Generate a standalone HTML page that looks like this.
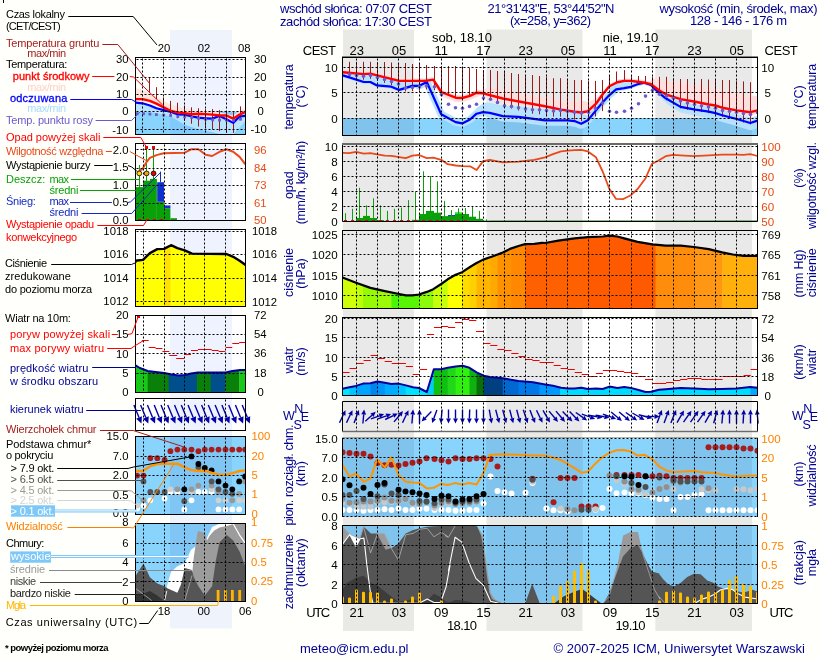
<!DOCTYPE html>
<html><head><meta charset="utf-8"><title>meteogram</title>
<style>html,body{margin:0;padding:0;background:#fffffb;}svg{display:block;will-change:transform}text{font-family:"Liberation Sans", sans-serif;}</style>
</head><body>
<svg width="820" height="660" viewBox="0 0 820 660">
<rect width="820" height="660" fill="#fffffb"/>
<rect x="3" y="0" width="1" height="3" fill="#000"/>
<rect x="342.5" y="57.5" width="415.0" height="78.0" fill="#ffffff"/>
<rect x="342.5" y="143.5" width="415.0" height="78.0" fill="#ffffff"/>
<rect x="342.5" y="230.5" width="415.0" height="78.0" fill="#ffffff"/>
<rect x="342.5" y="317.5" width="415.0" height="78.0" fill="#ffffff"/>
<rect x="342.5" y="401.5" width="415.0" height="30.0" fill="#ffffff"/>
<rect x="342.5" y="438.5" width="415.0" height="78.0" fill="#88D4FC"/>
<rect x="342.5" y="525.5" width="415.0" height="78.0" fill="#88D4FC"/>
<rect x="135.5" y="57.5" width="110.0" height="77.0" fill="#ffffff"/>
<rect x="135.5" y="143.5" width="110.0" height="77.0" fill="#ffffff"/>
<rect x="135.5" y="229.5" width="110.0" height="77.0" fill="#ffffff"/>
<rect x="135.5" y="315.5" width="110.0" height="77.0" fill="#ffffff"/>
<rect x="135.5" y="398.5" width="110.0" height="32.0" fill="#ffffff"/>
<rect x="135.5" y="436.5" width="110.0" height="78.0" fill="#88D4FC"/>
<rect x="135.5" y="523.5" width="110.0" height="78.0" fill="#88D4FC"/>
<rect x="342.5" y="118" width="415.0" height="17.5" fill="#88D4FC"/>
<rect x="343.0" y="29.5" width="71.0" height="601.5" fill="#000" fill-opacity="0.085"/>
<rect x="486.5" y="29.5" width="96.0" height="601.5" fill="#000" fill-opacity="0.085"/>
<rect x="655.3" y="29.5" width="96.7" height="601.5" fill="#000" fill-opacity="0.085"/>
<rect x="170" y="30" width="62" height="598.5" fill="#5078ff" fill-opacity="0.09"/>
<rect x="343.0" y="438.5" width="71.0" height="78.0" fill="#80C4EE"/>
<rect x="343.0" y="525.5" width="71.0" height="78.0" fill="#80C4EE"/>
<rect x="343.0" y="118.0" width="71.0" height="17.5" fill="#80C4EE"/>
<rect x="486.5" y="438.5" width="96.0" height="78.0" fill="#80C4EE"/>
<rect x="486.5" y="525.5" width="96.0" height="78.0" fill="#80C4EE"/>
<rect x="486.5" y="118.0" width="96.0" height="17.5" fill="#80C4EE"/>
<rect x="655.3" y="438.5" width="96.7" height="78.0" fill="#80C4EE"/>
<rect x="655.3" y="525.5" width="96.7" height="78.0" fill="#80C4EE"/>
<rect x="655.3" y="118.0" width="96.7" height="17.5" fill="#80C4EE"/>
<rect x="170" y="436.5" width="62" height="78.0" fill="#80C6F4"/>
<rect x="170" y="523.5" width="62" height="78.0" fill="#80C6F4"/>
<defs>
<clipPath id="cT"><rect x="342.5" y="57.5" width="415.0" height="78.0"/></clipPath>
<clipPath id="cP"><rect x="342.5" y="143.5" width="415.0" height="78.0"/></clipPath>
<clipPath id="cPr"><rect x="342.5" y="230.5" width="415.0" height="78.0"/></clipPath>
<clipPath id="cW"><rect x="342.5" y="317.5" width="415.0" height="78.0"/></clipPath>
<clipPath id="cD"><rect x="342.5" y="401.5" width="415.0" height="30.0"/></clipPath>
<clipPath id="cC"><rect x="342.5" y="438.5" width="415.0" height="78.0"/></clipPath>
<clipPath id="cN"><rect x="342.5" y="525.5" width="415.0" height="78.0"/></clipPath>
<clipPath id="lT"><rect x="135.5" y="57.5" width="110.0" height="77.0"/></clipPath>
<clipPath id="lP"><rect x="135.5" y="143.5" width="110.0" height="77.0"/></clipPath>
<clipPath id="lPr"><rect x="135.5" y="229.5" width="110.0" height="77.0"/></clipPath>
<clipPath id="lW"><rect x="135.5" y="315.5" width="110.0" height="77.0"/></clipPath>
<clipPath id="lD"><rect x="135.5" y="398.5" width="110.0" height="32.0"/></clipPath>
<clipPath id="lC"><rect x="135.5" y="436.5" width="110.0" height="78.0"/></clipPath>
<clipPath id="lN"><rect x="135.5" y="523.5" width="110.0" height="78.0"/></clipPath>
</defs>
<g clip-path="url(#cT)">
<polygon points="342.5,69.7 345.0,69.9 347.5,70.1 350.0,70.3 352.5,70.5 355.0,70.7 357.5,71.0 360.0,71.2 362.5,71.4 365.0,71.4 367.5,71.2 370.0,71.0 372.5,71.6 375.0,72.3 377.5,72.9 380.0,73.5 382.5,74.2 385.0,74.8 387.5,75.4 390.0,76.0 392.5,76.6 395.0,77.3 397.5,77.9 400.0,78.3 402.5,78.3 405.0,78.3 407.5,78.3 410.0,78.3 412.5,78.3 415.0,78.3 417.5,78.3 420.0,78.3 422.5,78.3 425.0,78.3 427.5,78.0 430.0,77.6 432.5,77.0 435.0,79.3 437.5,83.2 440.0,87.1 442.5,89.5 445.0,90.5 447.5,91.5 450.0,92.5 452.5,93.5 455.0,94.5 457.5,94.8 460.0,94.9 462.5,94.9 465.0,94.2 467.5,93.6 470.0,92.9 472.5,91.7 475.0,90.5 477.5,89.8 480.0,90.0 482.5,90.2 485.0,89.1 487.5,87.6 490.0,87.6 492.5,87.9 495.0,88.2 497.5,88.6 500.0,88.9 502.5,89.2 505.0,89.4 507.5,90.0 510.0,90.5 512.5,91.1 515.0,91.6 517.5,92.2 520.0,92.7 522.5,93.3 525.0,93.8 527.5,94.3 530.0,94.7 532.5,95.2 535.0,95.7 537.5,96.1 540.0,96.6 542.5,97.0 545.0,97.5 547.5,98.0 550.0,98.4 552.5,98.8 555.0,99.2 557.5,99.7 560.0,100.1 562.5,100.5 565.0,100.8 567.5,101.0 570.0,100.9 572.5,100.7 575.0,100.6 577.5,100.4 580.0,100.2 582.5,100.6 585.0,101.3 587.5,102.1 590.0,101.3 592.5,100.2 595.0,99.1 597.5,97.3 600.0,95.1 602.5,91.8 605.0,89.0 607.5,86.0 610.0,83.4 612.5,82.2 615.0,80.9 617.5,79.7 620.0,79.2 622.5,78.7 625.0,78.4 627.5,78.4 630.0,78.4 632.5,78.6 635.0,78.9 637.5,79.2 640.0,79.6 642.5,79.9 645.0,80.3 647.5,80.9 650.0,81.4 652.5,78.5 655.0,79.0 657.5,79.4 660.0,79.8 662.5,80.3 665.0,80.7 667.5,81.1 670.0,81.5 672.5,82.0 675.0,82.4 677.5,82.8 680.0,83.2 682.5,83.7 685.0,84.1 687.5,84.5 690.0,85.0 692.5,85.4 695.0,85.8 697.5,86.2 700.0,86.7 702.5,87.1 705.0,87.5 707.5,87.9 710.0,88.4 712.5,88.8 715.0,89.2 717.5,89.7 720.0,90.1 722.5,90.5 725.0,90.9 727.5,91.4 730.0,91.8 732.5,92.2 735.0,92.6 737.5,93.1 740.0,93.5 742.5,93.9 745.0,94.4 747.5,94.8 750.0,95.2 752.5,95.6 755.0,96.1 757.5,96.5 757.5,113.6 755.0,114.2 752.5,114.9 750.0,115.4 747.5,115.0 745.0,114.7 742.5,114.4 740.0,114.0 737.5,113.7 735.0,113.3 732.5,112.8 730.0,112.4 727.5,111.9 725.0,111.4 722.5,111.0 720.0,110.2 717.5,109.4 715.0,108.6 712.5,108.3 710.0,107.9 707.5,107.5 705.0,107.0 702.5,106.5 700.0,105.9 697.5,105.4 695.0,104.9 692.5,104.5 690.0,104.0 687.5,103.6 685.0,103.1 682.5,102.7 680.0,102.1 677.5,101.3 675.0,100.5 672.5,99.7 670.0,98.9 667.5,98.1 665.0,97.1 662.5,95.5 660.0,94.0 657.5,92.3 655.0,89.5 652.5,87.6 650.0,86.3 647.5,85.8 645.0,85.2 642.5,84.8 640.0,84.5 637.5,84.1 635.0,83.8 632.5,83.5 630.0,83.3 627.5,83.3 625.0,83.3 622.5,83.6 620.0,84.1 617.5,84.6 615.0,85.8 612.5,87.1 610.0,88.3 607.5,90.9 605.0,93.9 602.5,97.0 600.0,100.5 597.5,104.0 595.0,107.0 592.5,109.3 590.0,112.5 587.5,114.5 585.0,115.0 582.5,115.4 580.0,115.6 577.5,115.3 575.0,115.0 572.5,114.6 570.0,114.2 567.5,113.8 565.0,113.4 562.5,113.0 560.0,112.6 557.5,112.1 555.0,111.5 552.5,111.0 550.0,110.5 547.5,110.0 545.0,109.5 542.5,109.0 540.0,108.6 537.5,108.1 535.0,107.7 532.5,107.2 530.0,106.7 527.5,106.3 525.0,105.8 522.5,105.3 520.0,104.9 517.5,104.4 515.0,104.0 512.5,103.5 510.0,103.0 507.5,102.6 505.0,102.1 502.5,101.6 500.0,101.0 497.5,100.3 495.0,99.6 492.5,99.0 490.0,98.3 487.5,97.7 485.0,96.2 482.5,95.6 480.0,95.4 477.5,97.0 475.0,97.7 472.5,98.9 470.0,100.1 467.5,100.8 465.0,101.4 462.5,102.1 460.0,102.1 457.5,102.0 455.0,101.7 452.5,100.7 450.0,99.7 447.5,98.7 445.0,97.7 442.5,96.7 440.0,94.3 437.5,90.4 435.0,86.5 432.5,83.9 430.0,82.6 427.5,83.0 425.0,83.3 422.5,83.3 420.0,83.3 417.5,83.3 415.0,83.3 412.5,83.3 410.0,83.3 407.5,83.3 405.0,83.3 402.5,83.3 400.0,83.3 397.5,82.9 395.0,82.3 392.5,81.6 390.0,81.0 387.5,80.4 385.0,79.8 382.5,79.2 380.0,78.5 377.5,77.9 375.0,77.3 372.5,76.6 370.0,76.0 367.5,76.2 365.0,76.4 362.5,76.4 360.0,76.2 357.5,76.0 355.0,75.7 352.5,75.5 350.0,75.3 347.5,75.1 345.0,74.9 342.5,74.7" fill="#FFDEDE" />
<polygon points="342.5,73.5 345.0,73.7 347.5,73.9 350.0,74.1 352.5,74.3 355.0,74.5 357.5,74.8 360.0,75.0 362.5,75.2 365.0,75.2 367.5,75.0 370.0,74.8 372.5,75.4 375.0,76.1 377.5,76.7 380.0,77.3 382.5,78.0 385.0,78.6 387.5,79.2 390.0,79.8 392.5,80.4 395.0,81.1 397.5,81.7 400.0,82.1 402.5,82.1 405.0,82.1 407.5,82.1 410.0,82.1 412.5,82.1 415.0,82.1 417.5,82.1 420.0,82.1 422.5,82.1 425.0,82.1 427.5,81.8 430.0,86.2 432.5,91.7 435.0,97.3 437.5,102.9 440.0,108.5 442.5,111.9 445.0,113.3 447.5,114.7 450.0,116.0 452.5,117.4 455.0,118.8 457.5,119.5 460.0,120.0 462.5,120.3 465.0,119.0 467.5,117.8 470.0,116.5 472.5,113.2 475.0,109.9 477.5,107.2 480.0,105.5 482.5,103.8 485.0,102.8 487.5,102.6 490.0,102.9 492.5,103.4 495.0,104.0 497.5,104.5 500.0,105.1 502.5,105.7 505.0,105.8 507.5,105.9 510.0,105.9 512.5,106.0 515.0,106.1 517.5,106.1 520.0,106.3 522.5,106.6 525.0,106.9 527.5,107.1 530.0,107.4 532.5,107.7 535.0,107.9 537.5,108.2 540.0,108.4 542.5,108.7 545.0,109.0 547.5,108.9 550.0,108.9 552.5,109.0 555.0,109.5 557.5,110.1 560.0,110.6 562.5,111.0 565.0,111.4 567.5,111.8 570.0,112.2 572.5,112.6 575.0,113.0 577.5,113.3 580.0,114.0 582.5,115.1 585.0,115.1 587.5,115.2 590.0,114.7 592.5,111.7 595.0,108.6 597.5,105.6 600.0,102.6 602.5,99.5 605.0,96.8 607.5,94.1 610.0,87.1 612.5,85.9 615.0,84.6 617.5,83.4 620.0,82.9 622.5,82.4 625.0,82.1 627.5,82.1 630.0,82.1 632.5,82.3 635.0,82.6 637.5,82.9 640.0,83.3 642.5,83.1 645.0,82.9 647.5,83.8 650.0,84.6 652.5,86.4 655.0,88.3 657.5,90.3 660.0,92.0 662.5,93.5 665.0,95.1 667.5,96.1 670.0,96.9 672.5,97.7 675.0,98.7 677.5,100.2 680.0,101.6 682.5,102.3 685.0,102.7 687.5,103.2 690.0,103.6 692.5,104.1 695.0,104.5 697.5,104.9 700.0,105.3 702.5,105.7 705.0,106.1 707.5,106.5 710.0,107.0 712.5,107.5 715.0,108.0 717.5,108.8 720.0,109.5 722.5,110.3 725.0,110.9 727.5,111.6 730.0,112.2 732.5,112.9 735.0,113.5 737.5,114.2 740.0,114.9 742.5,115.7 745.0,116.4 747.5,117.2 750.0,117.9 752.5,117.3 755.0,116.4 757.5,115.6 757.5,128.1 755.0,128.9 752.5,129.7 750.0,130.3 747.5,129.5 745.0,128.7 742.5,127.9 740.0,127.1 737.5,126.3 735.0,125.5 732.5,124.8 730.0,124.1 727.5,123.4 725.0,122.7 722.5,122.0 720.0,121.2 717.5,120.4 715.0,119.6 712.5,119.0 710.0,118.4 707.5,117.9 705.0,117.4 702.5,117.0 700.0,116.5 697.5,116.1 695.0,115.6 692.5,115.1 690.0,114.6 687.5,114.1 685.0,113.6 682.5,113.1 680.0,112.3 677.5,110.8 675.0,109.3 672.5,107.8 670.0,106.3 667.5,104.3 665.0,102.1 662.5,99.5 660.0,96.9 657.5,94.0 655.0,90.9 652.5,88.4 650.0,86.6 647.5,85.8 645.0,84.9 642.5,85.1 640.0,85.7 637.5,86.3 635.0,87.3 632.5,88.2 630.0,89.0 627.5,89.5 625.0,89.9 622.5,90.4 620.0,90.8 617.5,91.2 615.0,92.3 612.5,94.5 610.0,96.6 607.5,99.1 605.0,101.8 602.5,104.5 600.0,107.6 597.5,114.1 595.0,117.1 592.5,120.2 590.0,123.2 587.5,126.0 585.0,127.3 582.5,128.6 580.0,128.8 577.5,127.8 575.0,126.8 572.5,126.4 570.0,126.1 567.5,125.8 565.0,125.8 562.5,125.8 560.0,125.8 557.5,125.8 555.0,125.8 552.5,125.8 550.0,125.8 547.5,125.8 545.0,125.8 542.5,125.5 540.0,125.2 537.5,124.8 535.0,124.5 532.5,124.2 530.0,123.9 527.5,123.6 525.0,123.2 522.5,122.9 520.0,122.6 517.5,122.3 515.0,122.2 512.5,122.1 510.0,122.0 507.5,121.8 505.0,121.7 502.5,121.5 500.0,120.9 497.5,120.1 495.0,119.2 492.5,118.3 490.0,117.5 487.5,116.9 485.0,116.3 482.5,116.0 480.0,116.4 477.5,116.7 475.0,118.1 472.5,120.3 470.0,122.5 467.5,123.8 465.0,125.0 462.5,126.3 460.0,126.0 457.5,125.5 455.0,124.8 452.5,123.4 450.0,122.0 447.5,120.7 445.0,119.3 442.5,117.9 440.0,114.5 437.5,108.9 435.0,103.3 432.5,97.7 430.0,92.2 427.5,86.6 425.0,84.9 422.5,86.1 420.0,87.4 417.5,87.9 415.0,87.9 412.5,87.9 410.0,88.6 407.5,89.4 405.0,90.1 402.5,90.9 400.0,91.7 397.5,91.2 395.0,90.2 392.5,89.2 390.0,88.6 387.5,88.3 385.0,88.1 382.5,87.9 380.0,87.7 377.5,87.4 375.0,86.4 372.5,85.1 370.0,84.0 367.5,84.0 365.0,84.0 362.5,83.6 360.0,82.8 357.5,82.0 355.0,81.2 352.5,80.4 350.0,79.6 347.5,78.9 345.0,78.1 342.5,77.4" fill="#B6E2FF" />
<polyline points="418.9,85.9 426.8,82.0 441.2,114.2 455.6,122.1 462.2,123.4 470.0,119.5 476.6,113.7 483.1,112.1" fill="none" stroke="#B6E2FF" stroke-width="7.5" stroke-linejoin="round" stroke-linecap="round"/>
<polyline points="581.2,123.8 587.9,120.3 596.0,110.4 602.7,102.3 609.4,95.1 616.1,89.4" fill="none" stroke="#B6E2FF" stroke-width="7" stroke-linejoin="round" stroke-linecap="round"/>
<line x1="349.5" y1="61.8" x2="349.5" y2="77.9" stroke="#A01818" stroke-width="1"/>
<line x1="356.5" y1="61.8" x2="356.5" y2="78.9" stroke="#A01818" stroke-width="1"/>
<line x1="363.5" y1="61.8" x2="363.5" y2="79.7" stroke="#A01818" stroke-width="1"/>
<line x1="370.5" y1="61.8" x2="370.5" y2="78.9" stroke="#A01818" stroke-width="1"/>
<line x1="377.5" y1="62.0" x2="377.5" y2="81.0" stroke="#A01818" stroke-width="1"/>
<line x1="384.5" y1="62.0" x2="384.5" y2="82.9" stroke="#A01818" stroke-width="1"/>
<line x1="391.5" y1="62.5" x2="391.5" y2="85.0" stroke="#A01818" stroke-width="1"/>
<line x1="398.5" y1="63.0" x2="398.5" y2="87.6" stroke="#A01818" stroke-width="1"/>
<line x1="405.5" y1="63.0" x2="405.5" y2="91.5" stroke="#A01818" stroke-width="1"/>
<line x1="412.5" y1="64.0" x2="412.5" y2="91.0" stroke="#A01818" stroke-width="1"/>
<line x1="419.5" y1="64.0" x2="419.5" y2="90.2" stroke="#A01818" stroke-width="1"/>
<line x1="426.5" y1="65.0" x2="426.5" y2="89.4" stroke="#A01818" stroke-width="1"/>
<line x1="434.5" y1="66.0" x2="434.5" y2="90.2" stroke="#A01818" stroke-width="1"/>
<line x1="441.5" y1="66.0" x2="441.5" y2="92.1" stroke="#A01818" stroke-width="1"/>
<line x1="448.5" y1="66.0" x2="448.5" y2="94.9" stroke="#A01818" stroke-width="1"/>
<line x1="455.5" y1="66.0" x2="455.5" y2="97.7" stroke="#A01818" stroke-width="1"/>
<line x1="462.5" y1="67.0" x2="462.5" y2="97.9" stroke="#A01818" stroke-width="1"/>
<line x1="469.5" y1="68.0" x2="469.5" y2="96.0" stroke="#A01818" stroke-width="1"/>
<line x1="476.5" y1="69.0" x2="476.5" y2="92.7" stroke="#A01818" stroke-width="1"/>
<line x1="483.5" y1="70.0" x2="483.5" y2="93.4" stroke="#A01818" stroke-width="1"/>
<line x1="490.5" y1="70.0" x2="490.5" y2="100.3" stroke="#A01818" stroke-width="1"/>
<line x1="497.5" y1="71.0" x2="497.5" y2="103.5" stroke="#A01818" stroke-width="1"/>
<line x1="504.5" y1="72.0" x2="504.5" y2="107.5" stroke="#A01818" stroke-width="1"/>
<line x1="511.5" y1="73.0" x2="511.5" y2="108.6" stroke="#A01818" stroke-width="1"/>
<line x1="518.5" y1="74.0" x2="518.5" y2="110.5" stroke="#A01818" stroke-width="1"/>
<line x1="525.5" y1="75.0" x2="525.5" y2="112.4" stroke="#A01818" stroke-width="1"/>
<line x1="532.5" y1="75.0" x2="532.5" y2="113.7" stroke="#A01818" stroke-width="1"/>
<line x1="539.5" y1="76.0" x2="539.5" y2="114.3" stroke="#A01818" stroke-width="1"/>
<line x1="546.5" y1="76.8" x2="546.5" y2="115.5" stroke="#A01818" stroke-width="1"/>
<line x1="553.5" y1="78.2" x2="553.5" y2="116.6" stroke="#A01818" stroke-width="1"/>
<line x1="560.5" y1="78.2" x2="560.5" y2="116.7" stroke="#A01818" stroke-width="1"/>
<line x1="567.5" y1="79.5" x2="567.5" y2="118.1" stroke="#A01818" stroke-width="1"/>
<line x1="574.5" y1="80.0" x2="574.5" y2="119.7" stroke="#A01818" stroke-width="1"/>
<line x1="581.5" y1="80.0" x2="581.5" y2="121.1" stroke="#A01818" stroke-width="1"/>
<line x1="588.5" y1="80.9" x2="588.5" y2="120.2" stroke="#A01818" stroke-width="1"/>
<line x1="595.5" y1="80.9" x2="595.5" y2="116.5" stroke="#A01818" stroke-width="1"/>
<line x1="602.5" y1="80.0" x2="602.5" y2="111.1" stroke="#A01818" stroke-width="1"/>
<line x1="609.5" y1="75.5" x2="609.5" y2="86.2" stroke="#A01818" stroke-width="1"/>
<line x1="616.5" y1="71.5" x2="616.5" y2="82.7" stroke="#A01818" stroke-width="1"/>
<line x1="624.5" y1="70.1" x2="624.5" y2="80.9" stroke="#A01818" stroke-width="1"/>
<line x1="631.5" y1="75.5" x2="631.5" y2="81.0" stroke="#A01818" stroke-width="1"/>
<line x1="638.5" y1="76.0" x2="638.5" y2="81.8" stroke="#A01818" stroke-width="1"/>
<line x1="645.5" y1="76.0" x2="645.5" y2="83.0" stroke="#A01818" stroke-width="1"/>
<line x1="652.5" y1="76.8" x2="652.5" y2="85.2" stroke="#A01818" stroke-width="1"/>
<line x1="659.5" y1="76.8" x2="659.5" y2="94.8" stroke="#A01818" stroke-width="1"/>
<line x1="666.5" y1="76.8" x2="666.5" y2="100.3" stroke="#A01818" stroke-width="1"/>
<line x1="673.5" y1="78.2" x2="673.5" y2="104.3" stroke="#A01818" stroke-width="1"/>
<line x1="680.5" y1="79.0" x2="680.5" y2="108.4" stroke="#A01818" stroke-width="1"/>
<line x1="687.5" y1="79.0" x2="687.5" y2="109.7" stroke="#A01818" stroke-width="1"/>
<line x1="694.5" y1="79.0" x2="694.5" y2="111.0" stroke="#A01818" stroke-width="1"/>
<line x1="701.5" y1="79.0" x2="701.5" y2="112.1" stroke="#A01818" stroke-width="1"/>
<line x1="708.5" y1="79.5" x2="708.5" y2="113.2" stroke="#A01818" stroke-width="1"/>
<line x1="715.5" y1="79.5" x2="715.5" y2="114.6" stroke="#A01818" stroke-width="1"/>
<line x1="722.5" y1="80.0" x2="722.5" y2="116.8" stroke="#A01818" stroke-width="1"/>
<line x1="729.5" y1="80.0" x2="729.5" y2="118.6" stroke="#A01818" stroke-width="1"/>
<line x1="736.5" y1="80.9" x2="736.5" y2="120.4" stroke="#A01818" stroke-width="1"/>
<line x1="743.5" y1="81.4" x2="743.5" y2="122.5" stroke="#A01818" stroke-width="1"/>
<line x1="750.5" y1="82.2" x2="750.5" y2="124.4" stroke="#A01818" stroke-width="1"/>
<polyline points="342.9,75.4 363.8,82.0 370.4,82.0 377.0,85.4 391.4,86.7 399.2,89.9 412.3,85.9 418.9,85.9 426.8,82.0 441.2,114.2 455.6,122.1 462.2,123.4 470.0,119.5 476.6,113.7 483.1,112.1 489.7,112.9 502.8,116.1 518.5,116.9 545.0,120.3 567.8,120.3 574.5,121.1 581.2,123.8 587.9,120.3 596.0,110.4 602.7,102.3 609.4,95.1 616.1,89.4 624.2,88.1 630.9,86.8 637.6,84.3 644.3,82.7 651.0,84.9 659.0,92.9 665.7,98.3 680.5,106.9 695.3,109.6 708.7,111.7 715.4,113.1 722.1,115.2 736.8,119.0 750.3,123.0 757.5,120.6" fill="none" stroke="#0000FF" stroke-width="2.2" stroke-linejoin="round"/>
<polyline points="342.9,72.3 363.8,74.1 370.4,73.6 377.0,75.4 399.2,80.9 425.5,80.9 433.3,79.6 441.2,92.0 455.6,97.7 462.2,98.0 470.0,95.9 476.6,92.7 483.1,93.3 502.8,98.5 545.0,106.3 561.1,109.6 574.5,111.7 581.2,112.5 587.9,111.2 596.0,103.7 602.7,94.3 609.4,86.2 617.4,82.2 624.2,80.9 630.9,80.9 637.6,81.7 644.3,82.7 651.0,84.1 659.0,90.2 665.7,94.3 680.5,99.1 695.3,101.8 708.7,104.5 715.4,105.5 722.1,107.7 736.8,110.4 750.3,112.2 757.5,110.4" fill="none" stroke="#FF0000" stroke-width="2.4" stroke-linejoin="round"/>
<circle cx="349.5" cy="74.4" r="1.8" fill="#6A5ACD"/>
<circle cx="356.5" cy="75.4" r="1.8" fill="#6A5ACD"/>
<circle cx="363.5" cy="76.2" r="1.8" fill="#6A5ACD"/>
<circle cx="370.5" cy="75.4" r="1.8" fill="#6A5ACD"/>
<circle cx="377.5" cy="77.5" r="1.8" fill="#6A5ACD"/>
<circle cx="384.5" cy="79.4" r="1.8" fill="#6A5ACD"/>
<circle cx="391.5" cy="81.5" r="1.8" fill="#6A5ACD"/>
<circle cx="398.5" cy="84.1" r="1.8" fill="#6A5ACD"/>
<circle cx="405.5" cy="88.0" r="1.8" fill="#6A5ACD"/>
<circle cx="412.5" cy="87.5" r="1.8" fill="#6A5ACD"/>
<circle cx="419.5" cy="86.7" r="1.8" fill="#6A5ACD"/>
<circle cx="426.5" cy="85.9" r="1.8" fill="#6A5ACD"/>
<circle cx="434.5" cy="86.7" r="1.8" fill="#6A5ACD"/>
<circle cx="441.5" cy="94.6" r="1.8" fill="#6A5ACD"/>
<circle cx="448.5" cy="104.3" r="1.8" fill="#6A5ACD"/>
<circle cx="455.5" cy="107.7" r="1.8" fill="#6A5ACD"/>
<circle cx="462.5" cy="108.2" r="1.8" fill="#6A5ACD"/>
<circle cx="469.5" cy="106.4" r="1.8" fill="#6A5ACD"/>
<circle cx="476.5" cy="104.3" r="1.8" fill="#6A5ACD"/>
<circle cx="483.5" cy="98.0" r="1.8" fill="#6A5ACD"/>
<circle cx="490.5" cy="99.3" r="1.8" fill="#6A5ACD"/>
<circle cx="497.5" cy="102.4" r="1.8" fill="#6A5ACD"/>
<circle cx="504.5" cy="105.8" r="1.8" fill="#6A5ACD"/>
<circle cx="511.5" cy="106.4" r="1.8" fill="#6A5ACD"/>
<circle cx="518.5" cy="107.7" r="1.8" fill="#6A5ACD"/>
<circle cx="525.5" cy="109.0" r="1.8" fill="#6A5ACD"/>
<circle cx="532.5" cy="109.8" r="1.8" fill="#6A5ACD"/>
<circle cx="539.5" cy="109.8" r="1.8" fill="#6A5ACD"/>
<circle cx="546.5" cy="110.4" r="1.8" fill="#6A5ACD"/>
<circle cx="553.5" cy="110.9" r="1.8" fill="#6A5ACD"/>
<circle cx="560.5" cy="110.4" r="1.8" fill="#6A5ACD"/>
<circle cx="567.5" cy="111.2" r="1.8" fill="#6A5ACD"/>
<circle cx="574.5" cy="112.2" r="1.8" fill="#6A5ACD"/>
<circle cx="581.5" cy="113.1" r="1.8" fill="#6A5ACD"/>
<circle cx="588.5" cy="112.2" r="1.8" fill="#6A5ACD"/>
<circle cx="595.5" cy="108.5" r="1.8" fill="#6A5ACD"/>
<circle cx="602.5" cy="103.1" r="1.8" fill="#6A5ACD"/>
<circle cx="609.5" cy="111.2" r="1.8" fill="#6A5ACD"/>
<circle cx="616.5" cy="112.2" r="1.8" fill="#6A5ACD"/>
<circle cx="624.5" cy="111.2" r="1.8" fill="#6A5ACD"/>
<circle cx="631.5" cy="108.2" r="1.8" fill="#6A5ACD"/>
<circle cx="638.5" cy="103.7" r="1.8" fill="#6A5ACD"/>
<circle cx="645.5" cy="96.1" r="1.8" fill="#6A5ACD"/>
<circle cx="652.5" cy="90.2" r="1.8" fill="#6A5ACD"/>
<circle cx="659.5" cy="94.3" r="1.8" fill="#6A5ACD"/>
<circle cx="666.5" cy="96.1" r="1.8" fill="#6A5ACD"/>
<circle cx="673.5" cy="98.3" r="1.8" fill="#6A5ACD"/>
<circle cx="680.5" cy="101.0" r="1.8" fill="#6A5ACD"/>
<circle cx="687.5" cy="102.9" r="1.8" fill="#6A5ACD"/>
<circle cx="694.5" cy="104.5" r="1.8" fill="#6A5ACD"/>
<circle cx="701.5" cy="105.8" r="1.8" fill="#6A5ACD"/>
<circle cx="708.5" cy="106.9" r="1.8" fill="#6A5ACD"/>
<circle cx="715.5" cy="108.2" r="1.8" fill="#6A5ACD"/>
<circle cx="722.5" cy="110.4" r="1.8" fill="#6A5ACD"/>
<circle cx="729.5" cy="111.2" r="1.8" fill="#6A5ACD"/>
<circle cx="736.5" cy="112.2" r="1.8" fill="#6A5ACD"/>
<circle cx="743.5" cy="113.6" r="1.8" fill="#6A5ACD"/>
<circle cx="750.5" cy="114.4" r="1.8" fill="#6A5ACD"/>
<circle cx="757.5" cy="112.5" r="1.8" fill="#6A5ACD"/>
</g>
<g clip-path="url(#cP)">
<rect x="356.0" y="218.0" width="7.0" height="3.5" fill="#0AA00A"/>
<rect x="363.0" y="215.9" width="7.0" height="5.6" fill="#0AA00A"/>
<rect x="370.0" y="218.0" width="7.0" height="3.5" fill="#0AA00A"/>
<rect x="377.0" y="220.1" width="7.0" height="1.4" fill="#0AA00A"/>
<rect x="384.0" y="220.9" width="7.0" height="0.6" fill="#0AA00A"/>
<rect x="391.0" y="220.9" width="7.0" height="0.6" fill="#0AA00A"/>
<rect x="398.0" y="220.9" width="7.0" height="0.6" fill="#0AA00A"/>
<rect x="405.0" y="220.9" width="7.0" height="0.6" fill="#0AA00A"/>
<rect x="412.0" y="219.8" width="7.0" height="1.7" fill="#0AA00A"/>
<rect x="419.0" y="214.0" width="7.0" height="7.5" fill="#0AA00A"/>
<rect x="426.0" y="210.9" width="8.0" height="10.6" fill="#0AA00A"/>
<rect x="434.0" y="212.7" width="7.0" height="8.8" fill="#0AA00A"/>
<rect x="441.0" y="216.1" width="7.0" height="5.4" fill="#0AA00A"/>
<rect x="448.0" y="215.9" width="7.0" height="5.6" fill="#0AA00A"/>
<rect x="455.0" y="212.7" width="7.0" height="8.8" fill="#0AA00A"/>
<rect x="462.0" y="214.0" width="7.0" height="7.5" fill="#0AA00A"/>
<rect x="469.0" y="216.7" width="7.0" height="4.8" fill="#0AA00A"/>
<rect x="476.0" y="218.8" width="7.0" height="2.7" fill="#0AA00A"/>
<rect x="483.0" y="220.6" width="7.0" height="0.9" fill="#0AA00A"/>
<rect x="455" y="212.4" width="7" height="1.6" fill="#30E030"/>
<rect x="448" y="215" width="7" height="1.1" fill="#2040D0"/>
<line x1="345.5" y1="213.2" x2="345.5" y2="221.5" stroke="#0AA00A" stroke-width="1"/>
<line x1="352.5" y1="208.8" x2="352.5" y2="221.5" stroke="#0AA00A" stroke-width="1"/>
<line x1="359.5" y1="187.8" x2="359.5" y2="221.5" stroke="#0AA00A" stroke-width="1"/>
<line x1="366.5" y1="205.4" x2="366.5" y2="221.5" stroke="#0AA00A" stroke-width="1"/>
<line x1="373.5" y1="198.3" x2="373.5" y2="221.5" stroke="#0AA00A" stroke-width="1"/>
<line x1="380.5" y1="205.4" x2="380.5" y2="221.5" stroke="#0AA00A" stroke-width="1"/>
<line x1="387.5" y1="210.9" x2="387.5" y2="221.5" stroke="#0AA00A" stroke-width="1"/>
<line x1="394.5" y1="208.8" x2="394.5" y2="221.5" stroke="#0AA00A" stroke-width="1"/>
<line x1="401.5" y1="207.5" x2="401.5" y2="221.5" stroke="#0AA00A" stroke-width="1"/>
<line x1="408.5" y1="200.1" x2="408.5" y2="221.5" stroke="#0AA00A" stroke-width="1"/>
<line x1="415.5" y1="191.7" x2="415.5" y2="221.5" stroke="#0AA00A" stroke-width="1"/>
<line x1="423.5" y1="171.3" x2="423.5" y2="221.5" stroke="#0AA00A" stroke-width="1"/>
<line x1="430.5" y1="176.0" x2="430.5" y2="221.5" stroke="#0AA00A" stroke-width="1"/>
<line x1="437.5" y1="181.3" x2="437.5" y2="221.5" stroke="#0AA00A" stroke-width="1"/>
<line x1="444.5" y1="200.9" x2="444.5" y2="221.5" stroke="#0AA00A" stroke-width="1"/>
<line x1="451.5" y1="210.1" x2="451.5" y2="221.5" stroke="#0AA00A" stroke-width="1"/>
<line x1="458.5" y1="208.3" x2="458.5" y2="221.5" stroke="#0AA00A" stroke-width="1"/>
<line x1="465.5" y1="208.0" x2="465.5" y2="221.5" stroke="#0AA00A" stroke-width="1"/>
<line x1="472.5" y1="207.0" x2="472.5" y2="221.5" stroke="#0AA00A" stroke-width="1"/>
<line x1="479.5" y1="210.9" x2="479.5" y2="221.5" stroke="#0AA00A" stroke-width="1"/>
<line x1="486.5" y1="219.3" x2="486.5" y2="221.5" stroke="#0AA00A" stroke-width="1"/>
<rect x="344.0" y="220" width="3" height="1.6" fill="#E00000"/>
<rect x="351.1" y="220" width="3" height="1.6" fill="#E00000"/>
<rect x="357.9" y="220" width="3" height="1.6" fill="#E00000"/>
<rect x="365.0" y="220" width="3" height="1.6" fill="#E00000"/>
<rect x="372.0" y="220" width="3" height="1.6" fill="#E00000"/>
<rect x="379.1" y="220" width="3" height="1.6" fill="#E00000"/>
<rect x="385.9" y="220" width="3" height="1.6" fill="#E00000"/>
<rect x="393.0" y="220" width="3" height="1.6" fill="#E00000"/>
<rect x="400.1" y="220" width="3" height="1.6" fill="#E00000"/>
<rect x="406.9" y="220" width="3" height="1.6" fill="#E00000"/>
<rect x="414.0" y="220" width="3" height="1.6" fill="#E00000"/>
<rect x="421.9" y="220" width="3" height="1.6" fill="#E00000"/>
<rect x="428.7" y="220" width="3" height="1.6" fill="#E00000"/>
<rect x="435.8" y="220" width="3" height="1.6" fill="#E00000"/>
<rect x="442.8" y="220" width="3" height="1.6" fill="#E00000"/>
<rect x="449.9" y="220" width="3" height="1.6" fill="#E00000"/>
<rect x="456.7" y="220" width="3" height="1.6" fill="#E00000"/>
<rect x="463.8" y="220" width="3" height="1.6" fill="#E00000"/>
<line x1="490" y1="221" x2="757" y2="221" stroke="#108010" stroke-width="1"/>
<polyline points="342.9,152.9 349.4,153.2 356.0,151.9 363.8,153.7 370.4,153.2 377.0,154.3 384.8,155.6 391.4,155.8 399.2,157.1 405.8,158.2 412.3,155.6 418.9,155.0 426.8,158.2 433.3,157.7 441.2,159.8 447.7,164.2 455.6,165.5 462.2,166.1 470.0,166.3 476.6,170.0 483.1,161.1 489.7,159.8 496.2,161.1 502.8,162.4 518.5,161.6 534.3,159.8 545.0,157.3 553.0,154.1 561.1,151.4 567.8,150.6 574.5,150.1 581.2,149.8 587.9,151.4 596.0,157.3 602.7,171.5 609.4,189.0 616.1,198.9 622.8,199.2 630.9,195.2 637.6,189.0 645.6,178.2 651.8,164.0 659.0,160.3 665.7,156.2 673.0,154.9 680.5,155.4 693.9,156.2 708.7,155.4 722.1,154.6 736.8,154.6 743.5,154.9 750.3,154.1 757.5,156.0" fill="none" stroke="#E84A1A" stroke-width="1.8" stroke-linejoin="round"/>
</g>
<clipPath id="cPrFill"><polygon points="342.5,277.4 356.0,282.7 370.4,287.9 384.8,291.1 399.2,294.0 405.8,295.3 412.3,295.3 418.9,294.5 426.8,291.9 433.3,289.2 441.2,284.0 447.7,279.3 455.6,274.8 462.2,272.2 470.0,267.0 476.6,263.0 483.1,259.6 492.3,256.5 502.8,252.5 510.7,248.6 518.5,246.0 525.1,244.1 534.3,243.9 542.1,242.8 545.0,243.0 558.4,240.6 574.5,238.4 587.9,237.1 602.7,236.5 609.4,235.7 617.4,236.5 624.2,238.4 637.6,241.9 652.3,244.3 665.7,245.7 680.5,245.7 693.9,247.0 708.7,249.1 722.1,252.4 732.8,254.5 743.5,255.9 757.5,255.9 757.5,308.5 342.5,308.5"/></clipPath>
<g clip-path="url(#cPrFill)">
<rect x="342.5" y="230" width="7.5" height="79" fill="#CDFF0A"/>
<rect x="349.5" y="230" width="7.0" height="79" fill="#D2FF0A"/>
<rect x="356.0" y="230" width="7.5" height="79" fill="#BEFF0A"/>
<rect x="363.0" y="230" width="14.5" height="79" fill="#96FA05"/>
<rect x="377.0" y="230" width="14.9" height="79" fill="#9CFA08"/>
<rect x="391.4" y="230" width="8.3" height="79" fill="#4BF505"/>
<rect x="399.2" y="230" width="20.3" height="79" fill="#58F505"/>
<rect x="419.0" y="230" width="14.8" height="79" fill="#8CFA0A"/>
<rect x="433.3" y="230" width="14.9" height="79" fill="#C8FF0A"/>
<rect x="447.7" y="230" width="15.0" height="79" fill="#FFFF00"/>
<rect x="462.2" y="230" width="7.8" height="79" fill="#FFDC00"/>
<rect x="469.5" y="230" width="7.6" height="79" fill="#FFD000"/>
<rect x="476.6" y="230" width="14.4" height="79" fill="#FFB400"/>
<rect x="490.5" y="230" width="7.5" height="79" fill="#FFA800"/>
<rect x="497.5" y="230" width="14.5" height="79" fill="#FF9000"/>
<rect x="511.5" y="230" width="14.1" height="79" fill="#FF8800"/>
<rect x="525.1" y="230" width="63.3" height="79" fill="#FF6000"/>
<rect x="587.9" y="230" width="68.1" height="79" fill="#FF5A00"/>
<rect x="655.5" y="230" width="39.0" height="79" fill="#FF8C0A"/>
<rect x="694.0" y="230" width="28.5" height="79" fill="#FF9614"/>
<rect x="722.0" y="230" width="36.0" height="79" fill="#FFB00A"/>
</g>
<g clip-path="url(#cPr)">
<polyline points="342.5,277.4 356.0,282.7 370.4,287.9 384.8,291.1 399.2,294.0 405.8,295.3 412.3,295.3 418.9,294.5 426.8,291.9 433.3,289.2 441.2,284.0 447.7,279.3 455.6,274.8 462.2,272.2 470.0,267.0 476.6,263.0 483.1,259.6 492.3,256.5 502.8,252.5 510.7,248.6 518.5,246.0 525.1,244.1 534.3,243.9 542.1,242.8 545.0,243.0 558.4,240.6 574.5,238.4 587.9,237.1 602.7,236.5 609.4,235.7 617.4,236.5 624.2,238.4 637.6,241.9 652.3,244.3 665.7,245.7 680.5,245.7 693.9,247.0 708.7,249.1 722.1,252.4 732.8,254.5 743.5,255.9 757.5,255.9" fill="none" stroke="#000" stroke-width="2.2" stroke-linejoin="round"/>
</g>
<clipPath id="cWFill"><polygon points="342.5,388.8 349.4,387.2 356.0,385.9 363.1,383.6 370.4,383.3 377.5,381.5 384.8,382.8 391.4,384.1 398.7,383.6 405.8,385.4 412.9,387.2 418.9,388.0 426.8,392.0 433.8,369.2 441.2,369.2 447.7,367.8 455.6,366.5 462.7,365.7 469.5,367.8 476.6,372.3 483.7,375.7 489.7,377.0 502.8,378.3 518.5,381.0 533.0,382.3 545.0,384.4 553.0,385.8 561.1,387.7 567.8,388.5 574.5,388.5 581.2,387.7 587.9,389.0 596.0,388.5 602.7,389.0 609.4,386.6 617.4,387.9 624.2,387.1 630.9,387.9 637.6,389.8 645.6,392.0 651.0,391.7 659.0,389.8 665.7,389.3 680.5,387.9 693.9,388.5 708.7,389.3 722.1,389.0 736.8,388.5 750.3,387.1 757.5,387.7 757.5,395.5 342.5,395.5"/></clipPath>
<g clip-path="url(#cWFill)">
<rect x="342.5" y="317" width="7.4" height="79" fill="#00E4FF"/>
<rect x="349.4" y="317" width="7.1" height="79" fill="#00C4FF"/>
<rect x="356.0" y="317" width="14.9" height="79" fill="#00A4FF"/>
<rect x="370.4" y="317" width="7.1" height="79" fill="#0084F0"/>
<rect x="377.0" y="317" width="8.3" height="79" fill="#0094F8"/>
<rect x="384.8" y="317" width="14.9" height="79" fill="#00ACFF"/>
<rect x="399.2" y="317" width="7.1" height="79" fill="#00C4FF"/>
<rect x="405.8" y="317" width="21.5" height="79" fill="#00E4FF"/>
<rect x="426.8" y="317" width="7.5" height="79" fill="#00D0F0"/>
<rect x="433.8" y="317" width="14.4" height="79" fill="#10C010"/>
<rect x="447.7" y="317" width="8.4" height="79" fill="#20D818"/>
<rect x="455.6" y="317" width="14.4" height="79" fill="#30F010"/>
<rect x="469.5" y="317" width="7.6" height="79" fill="#10B010"/>
<rect x="476.6" y="317" width="7.6" height="79" fill="#087008"/>
<rect x="483.7" y="317" width="19.6" height="79" fill="#004080"/>
<rect x="502.8" y="317" width="16.2" height="79" fill="#0068D0"/>
<rect x="518.5" y="317" width="21.5" height="79" fill="#0078E8"/>
<rect x="539.5" y="317" width="21.0" height="79" fill="#0098FF"/>
<rect x="560.0" y="317" width="190.8" height="79" fill="#00DCFF"/>
<rect x="750.3" y="317" width="7.7" height="79" fill="#00A8FF"/>
</g>
<g clip-path="url(#cW)">
<polyline points="342.5,388.8 349.4,387.2 356.0,385.9 363.1,383.6 370.4,383.3 377.5,381.5 384.8,382.8 391.4,384.1 398.7,383.6 405.8,385.4 412.9,387.2 418.9,388.0 426.8,392.0 433.8,369.2 441.2,369.2 447.7,367.8 455.6,366.5 462.7,365.7 469.5,367.8 476.6,372.3 483.7,375.7 489.7,377.0 502.8,378.3 518.5,381.0 533.0,382.3 545.0,384.4 553.0,385.8 561.1,387.7 567.8,388.5 574.5,388.5 581.2,387.7 587.9,389.0 596.0,388.5 602.7,389.0 609.4,386.6 617.4,387.9 624.2,387.1 630.9,387.9 637.6,389.8 645.6,392.0 651.0,391.7 659.0,389.8 665.7,389.3 680.5,387.9 693.9,388.5 708.7,389.3 722.1,389.0 736.8,388.5 750.3,387.1 757.5,387.7" fill="none" stroke="#0000A0" stroke-width="2" stroke-linejoin="round"/>
<line x1="342.4" y1="372.5" x2="349.6" y2="372.5" stroke="#F00000" stroke-width="1"/>
<line x1="349.5" y1="368.5" x2="356.7" y2="368.5" stroke="#F00000" stroke-width="1"/>
<line x1="356.5" y1="363.5" x2="363.7" y2="363.5" stroke="#F00000" stroke-width="1"/>
<line x1="363.6" y1="360.5" x2="370.8" y2="360.5" stroke="#F00000" stroke-width="1"/>
<line x1="370.6" y1="355.5" x2="377.8" y2="355.5" stroke="#F00000" stroke-width="1"/>
<line x1="377.6" y1="358.5" x2="384.8" y2="358.5" stroke="#F00000" stroke-width="1"/>
<line x1="384.7" y1="361.5" x2="391.9" y2="361.5" stroke="#F00000" stroke-width="1"/>
<line x1="391.7" y1="363.5" x2="398.9" y2="363.5" stroke="#F00000" stroke-width="1"/>
<line x1="398.7" y1="363.5" x2="405.9" y2="363.5" stroke="#F00000" stroke-width="1"/>
<line x1="405.8" y1="366.5" x2="413.0" y2="366.5" stroke="#F00000" stroke-width="1"/>
<line x1="412.8" y1="374.5" x2="420.0" y2="374.5" stroke="#F00000" stroke-width="1"/>
<line x1="419.9" y1="369.5" x2="427.1" y2="369.5" stroke="#F00000" stroke-width="1"/>
<line x1="426.9" y1="334.5" x2="434.1" y2="334.5" stroke="#F00000" stroke-width="1"/>
<line x1="433.9" y1="327.5" x2="441.1" y2="327.5" stroke="#F00000" stroke-width="1"/>
<line x1="441.0" y1="326.5" x2="448.2" y2="326.5" stroke="#F00000" stroke-width="1"/>
<line x1="448.0" y1="327.5" x2="455.2" y2="327.5" stroke="#F00000" stroke-width="1"/>
<line x1="455.0" y1="322.5" x2="462.2" y2="322.5" stroke="#F00000" stroke-width="1"/>
<line x1="462.1" y1="319.5" x2="469.3" y2="319.5" stroke="#F00000" stroke-width="1"/>
<line x1="469.1" y1="320.5" x2="476.3" y2="320.5" stroke="#F00000" stroke-width="1"/>
<line x1="476.1" y1="331.5" x2="483.3" y2="331.5" stroke="#F00000" stroke-width="1"/>
<line x1="483.2" y1="343.5" x2="490.4" y2="343.5" stroke="#F00000" stroke-width="1"/>
<line x1="490.2" y1="345.5" x2="497.4" y2="345.5" stroke="#F00000" stroke-width="1"/>
<line x1="497.3" y1="349.5" x2="504.5" y2="349.5" stroke="#F00000" stroke-width="1"/>
<line x1="504.3" y1="350.5" x2="511.5" y2="350.5" stroke="#F00000" stroke-width="1"/>
<line x1="511.3" y1="353.5" x2="518.5" y2="353.5" stroke="#F00000" stroke-width="1"/>
<line x1="518.4" y1="356.5" x2="525.6" y2="356.5" stroke="#F00000" stroke-width="1"/>
<line x1="525.4" y1="359.5" x2="532.6" y2="359.5" stroke="#F00000" stroke-width="1"/>
<line x1="532.4" y1="360.5" x2="539.6" y2="360.5" stroke="#F00000" stroke-width="1"/>
<line x1="539.5" y1="362.5" x2="546.7" y2="362.5" stroke="#F00000" stroke-width="1"/>
<line x1="546.5" y1="362.5" x2="553.7" y2="362.5" stroke="#F00000" stroke-width="1"/>
<line x1="553.6" y1="365.5" x2="560.8" y2="365.5" stroke="#F00000" stroke-width="1"/>
<line x1="560.6" y1="368.5" x2="567.8" y2="368.5" stroke="#F00000" stroke-width="1"/>
<line x1="567.6" y1="369.5" x2="574.8" y2="369.5" stroke="#F00000" stroke-width="1"/>
<line x1="574.7" y1="372.5" x2="581.9" y2="372.5" stroke="#F00000" stroke-width="1"/>
<line x1="581.7" y1="374.5" x2="588.9" y2="374.5" stroke="#F00000" stroke-width="1"/>
<line x1="588.7" y1="376.5" x2="595.9" y2="376.5" stroke="#F00000" stroke-width="1"/>
<line x1="595.8" y1="373.5" x2="603.0" y2="373.5" stroke="#F00000" stroke-width="1"/>
<line x1="602.8" y1="370.5" x2="610.0" y2="370.5" stroke="#F00000" stroke-width="1"/>
<line x1="609.9" y1="370.5" x2="617.1" y2="370.5" stroke="#F00000" stroke-width="1"/>
<line x1="616.9" y1="371.5" x2="624.1" y2="371.5" stroke="#F00000" stroke-width="1"/>
<line x1="623.9" y1="372.5" x2="631.1" y2="372.5" stroke="#F00000" stroke-width="1"/>
<line x1="631.0" y1="373.5" x2="638.2" y2="373.5" stroke="#F00000" stroke-width="1"/>
<line x1="638.0" y1="376.5" x2="645.2" y2="376.5" stroke="#F00000" stroke-width="1"/>
<line x1="645.0" y1="379.5" x2="652.2" y2="379.5" stroke="#F00000" stroke-width="1"/>
<line x1="652.1" y1="383.5" x2="659.3" y2="383.5" stroke="#F00000" stroke-width="1"/>
<line x1="659.1" y1="383.5" x2="666.3" y2="383.5" stroke="#F00000" stroke-width="1"/>
<line x1="666.1" y1="382.5" x2="673.3" y2="382.5" stroke="#F00000" stroke-width="1"/>
<line x1="673.2" y1="380.5" x2="680.4" y2="380.5" stroke="#F00000" stroke-width="1"/>
<line x1="680.2" y1="379.5" x2="687.4" y2="379.5" stroke="#F00000" stroke-width="1"/>
<line x1="687.3" y1="378.5" x2="694.5" y2="378.5" stroke="#F00000" stroke-width="1"/>
<line x1="694.3" y1="378.5" x2="701.5" y2="378.5" stroke="#F00000" stroke-width="1"/>
<line x1="701.3" y1="379.5" x2="708.5" y2="379.5" stroke="#F00000" stroke-width="1"/>
<line x1="708.4" y1="379.5" x2="715.6" y2="379.5" stroke="#F00000" stroke-width="1"/>
<line x1="715.4" y1="379.5" x2="722.6" y2="379.5" stroke="#F00000" stroke-width="1"/>
<line x1="722.4" y1="376.5" x2="729.6" y2="376.5" stroke="#F00000" stroke-width="1"/>
<line x1="729.5" y1="376.5" x2="736.7" y2="376.5" stroke="#F00000" stroke-width="1"/>
<line x1="736.5" y1="376.5" x2="743.7" y2="376.5" stroke="#F00000" stroke-width="1"/>
<line x1="743.6" y1="375.5" x2="750.8" y2="375.5" stroke="#F00000" stroke-width="1"/>
<line x1="750.6" y1="369.5" x2="757.8" y2="369.5" stroke="#F00000" stroke-width="1"/>
</g>
<g>
<line x1="339.5" y1="422.8" x2="343.3" y2="414.7" stroke="#0000A8" stroke-width="1.4"/>
<polygon points="345.5,410.2 345.5,415.7 341.2,413.7" fill="#0000A8"/>
<line x1="346.5" y1="422.8" x2="350.3" y2="414.7" stroke="#0000A8" stroke-width="1.4"/>
<polygon points="352.5,410.2 352.5,415.7 348.2,413.7" fill="#0000A8"/>
<line x1="354.1" y1="423.1" x2="357.2" y2="414.6" stroke="#0000A8" stroke-width="1.4"/>
<polygon points="358.9,409.9 359.4,415.4 354.9,413.8" fill="#0000A8"/>
<line x1="362.9" y1="423.5" x2="363.7" y2="414.5" stroke="#0000A8" stroke-width="1.4"/>
<polygon points="364.1,409.5 366.1,414.7 361.3,414.3" fill="#0000A8"/>
<line x1="365.3" y1="421.2" x2="372.0" y2="415.2" stroke="#0000A8" stroke-width="1.4"/>
<polygon points="375.7,411.8 373.6,416.9 370.4,413.4" fill="#0000A8"/>
<line x1="370.9" y1="418.9" x2="379.4" y2="415.8" stroke="#0000A8" stroke-width="1.4"/>
<polygon points="384.1,414.1 380.2,418.1 378.6,413.6" fill="#0000A8"/>
<line x1="377.9" y1="418.9" x2="386.4" y2="415.8" stroke="#0000A8" stroke-width="1.4"/>
<polygon points="391.1,414.1 387.2,418.1 385.6,413.6" fill="#0000A8"/>
<line x1="385.2" y1="419.5" x2="393.3" y2="415.7" stroke="#0000A8" stroke-width="1.4"/>
<polygon points="397.8,413.5 394.3,417.8 392.3,413.5" fill="#0000A8"/>
<line x1="394.0" y1="421.9" x2="399.8" y2="415.0" stroke="#0000A8" stroke-width="1.4"/>
<polygon points="403.0,411.1 401.6,416.5 397.9,413.4" fill="#0000A8"/>
<line x1="402.5" y1="422.8" x2="406.3" y2="414.7" stroke="#0000A8" stroke-width="1.4"/>
<polygon points="408.5,410.2 408.5,415.7 404.2,413.7" fill="#0000A8"/>
<line x1="411.9" y1="423.5" x2="412.7" y2="414.5" stroke="#0000A8" stroke-width="1.4"/>
<polygon points="413.1,409.5 415.1,414.7 410.3,414.3" fill="#0000A8"/>
<line x1="419.5" y1="423.5" x2="419.5" y2="414.5" stroke="#0000A8" stroke-width="1.4"/>
<polygon points="419.5,409.5 421.9,414.5 417.1,414.5" fill="#0000A8"/>
<line x1="431.4" y1="411.6" x2="425.1" y2="417.9" stroke="#0000A8" stroke-width="1.4"/>
<polygon points="421.6,421.4 423.4,416.2 426.8,419.6" fill="#0000A8"/>
<line x1="436.9" y1="409.9" x2="433.8" y2="418.4" stroke="#0000A8" stroke-width="1.4"/>
<polygon points="432.1,423.1 431.6,417.6 436.1,419.2" fill="#0000A8"/>
<line x1="442.1" y1="409.5" x2="441.3" y2="418.5" stroke="#0000A8" stroke-width="1.4"/>
<polygon points="440.9,423.5 438.9,418.3 443.7,418.7" fill="#0000A8"/>
<line x1="448.5" y1="409.5" x2="448.5" y2="418.5" stroke="#0000A8" stroke-width="1.4"/>
<polygon points="448.5,423.5 446.1,418.5 450.9,418.5" fill="#0000A8"/>
<line x1="455.5" y1="409.5" x2="455.5" y2="418.5" stroke="#0000A8" stroke-width="1.4"/>
<polygon points="455.5,423.5 453.1,418.5 457.9,418.5" fill="#0000A8"/>
<line x1="462.5" y1="409.5" x2="462.5" y2="418.5" stroke="#0000A8" stroke-width="1.4"/>
<polygon points="462.5,423.5 460.1,418.5 464.9,418.5" fill="#0000A8"/>
<line x1="469.7" y1="409.5" x2="469.4" y2="418.5" stroke="#0000A8" stroke-width="1.4"/>
<polygon points="469.3,423.5 467.0,418.4 471.8,418.6" fill="#0000A8"/>
<line x1="476.5" y1="409.5" x2="476.5" y2="418.5" stroke="#0000A8" stroke-width="1.4"/>
<polygon points="476.5,423.5 474.1,418.5 478.9,418.5" fill="#0000A8"/>
<line x1="483.5" y1="409.5" x2="483.5" y2="418.5" stroke="#0000A8" stroke-width="1.4"/>
<polygon points="483.5,423.5 481.1,418.5 485.9,418.5" fill="#0000A8"/>
<line x1="489.3" y1="409.6" x2="490.8" y2="418.5" stroke="#0000A8" stroke-width="1.4"/>
<polygon points="491.7,423.4 488.5,418.9 493.2,418.1" fill="#0000A8"/>
<line x1="495.7" y1="409.7" x2="498.0" y2="418.4" stroke="#0000A8" stroke-width="1.4"/>
<polygon points="499.3,423.3 495.7,419.1 500.3,417.8" fill="#0000A8"/>
<line x1="502.7" y1="409.7" x2="505.0" y2="418.4" stroke="#0000A8" stroke-width="1.4"/>
<polygon points="506.3,423.3 502.7,419.1 507.3,417.8" fill="#0000A8"/>
<line x1="509.7" y1="409.7" x2="512.0" y2="418.4" stroke="#0000A8" stroke-width="1.4"/>
<polygon points="513.3,423.3 509.7,419.1 514.3,417.8" fill="#0000A8"/>
<line x1="516.7" y1="409.7" x2="519.0" y2="418.4" stroke="#0000A8" stroke-width="1.4"/>
<polygon points="520.3,423.3 516.7,419.1 521.3,417.8" fill="#0000A8"/>
<line x1="523.3" y1="409.8" x2="526.1" y2="418.4" stroke="#0000A8" stroke-width="1.4"/>
<polygon points="527.7,423.2 523.8,419.1 528.4,417.7" fill="#0000A8"/>
<line x1="529.9" y1="410.0" x2="533.2" y2="418.4" stroke="#0000A8" stroke-width="1.4"/>
<polygon points="535.1,423.0 531.0,419.3 535.5,417.5" fill="#0000A8"/>
<line x1="536.5" y1="410.2" x2="540.3" y2="418.3" stroke="#0000A8" stroke-width="1.4"/>
<polygon points="542.5,422.8 538.2,419.3 542.5,417.3" fill="#0000A8"/>
<line x1="543.0" y1="410.4" x2="547.5" y2="418.2" stroke="#0000A8" stroke-width="1.4"/>
<polygon points="550.0,422.6 545.4,419.4 549.6,417.0" fill="#0000A8"/>
<line x1="549.0" y1="411.1" x2="554.8" y2="418.0" stroke="#0000A8" stroke-width="1.4"/>
<polygon points="558.0,421.9 552.9,419.6 556.6,416.5" fill="#0000A8"/>
<line x1="556.0" y1="411.1" x2="561.8" y2="418.0" stroke="#0000A8" stroke-width="1.4"/>
<polygon points="565.0,421.9 559.9,419.6 563.6,416.5" fill="#0000A8"/>
<line x1="562.6" y1="411.6" x2="568.9" y2="417.9" stroke="#0000A8" stroke-width="1.4"/>
<polygon points="572.4,421.4 567.2,419.6 570.6,416.2" fill="#0000A8"/>
<line x1="569.6" y1="411.6" x2="575.9" y2="417.9" stroke="#0000A8" stroke-width="1.4"/>
<polygon points="579.4,421.4 574.2,419.6 577.6,416.2" fill="#0000A8"/>
<line x1="575.8" y1="412.5" x2="583.1" y2="417.6" stroke="#0000A8" stroke-width="1.4"/>
<polygon points="587.2,420.5 581.8,419.6 584.5,415.7" fill="#0000A8"/>
<line x1="581.9" y1="414.1" x2="590.4" y2="417.2" stroke="#0000A8" stroke-width="1.4"/>
<polygon points="595.1,418.9 589.6,419.4 591.2,414.9" fill="#0000A8"/>
<line x1="588.6" y1="415.3" x2="597.5" y2="416.8" stroke="#0000A8" stroke-width="1.4"/>
<polygon points="602.4,417.7 597.1,419.2 597.9,414.5" fill="#0000A8"/>
<line x1="595.6" y1="415.3" x2="604.5" y2="416.8" stroke="#0000A8" stroke-width="1.4"/>
<polygon points="609.4,417.7 604.1,419.2 604.9,414.5" fill="#0000A8"/>
<line x1="602.9" y1="414.1" x2="611.4" y2="417.2" stroke="#0000A8" stroke-width="1.4"/>
<polygon points="616.1,418.9 610.6,419.4 612.2,414.9" fill="#0000A8"/>
<line x1="611.1" y1="412.0" x2="618.0" y2="417.8" stroke="#0000A8" stroke-width="1.4"/>
<polygon points="621.9,421.0 616.5,419.6 619.6,415.9" fill="#0000A8"/>
<line x1="619.1" y1="412.0" x2="626.0" y2="417.8" stroke="#0000A8" stroke-width="1.4"/>
<polygon points="629.9,421.0 624.5,419.6 627.6,415.9" fill="#0000A8"/>
<line x1="625.8" y1="412.5" x2="633.1" y2="417.6" stroke="#0000A8" stroke-width="1.4"/>
<polygon points="637.2,420.5 631.8,419.6 634.5,415.7" fill="#0000A8"/>
<line x1="632.4" y1="413.0" x2="640.2" y2="417.5" stroke="#0000A8" stroke-width="1.4"/>
<polygon points="644.6,420.0 639.0,419.6 641.4,415.4" fill="#0000A8"/>
<line x1="638.7" y1="414.7" x2="647.4" y2="417.0" stroke="#0000A8" stroke-width="1.4"/>
<polygon points="652.3,418.3 646.8,419.3 648.1,414.7" fill="#0000A8"/>
<line x1="645.5" y1="416.5" x2="654.5" y2="416.5" stroke="#0000A8" stroke-width="1.4"/>
<polygon points="659.5,416.5 654.5,418.9 654.5,414.1" fill="#0000A8"/>
<line x1="657.1" y1="423.1" x2="660.2" y2="414.6" stroke="#0000A8" stroke-width="1.4"/>
<polygon points="661.9,409.9 662.4,415.4 657.9,413.8" fill="#0000A8"/>
<line x1="664.1" y1="423.1" x2="667.2" y2="414.6" stroke="#0000A8" stroke-width="1.4"/>
<polygon points="668.9,409.9 669.4,415.4 664.9,413.8" fill="#0000A8"/>
<line x1="670.9" y1="423.0" x2="674.2" y2="414.6" stroke="#0000A8" stroke-width="1.4"/>
<polygon points="676.1,410.0 676.5,415.5 672.0,413.7" fill="#0000A8"/>
<line x1="677.0" y1="422.6" x2="681.5" y2="414.8" stroke="#0000A8" stroke-width="1.4"/>
<polygon points="684.0,410.4 683.6,416.0 679.4,413.6" fill="#0000A8"/>
<line x1="683.5" y1="422.2" x2="688.6" y2="414.9" stroke="#0000A8" stroke-width="1.4"/>
<polygon points="691.5,410.8 690.6,416.2 686.7,413.5" fill="#0000A8"/>
<line x1="690.5" y1="422.2" x2="695.6" y2="414.9" stroke="#0000A8" stroke-width="1.4"/>
<polygon points="698.5,410.8 697.6,416.2 693.7,413.5" fill="#0000A8"/>
<line x1="697.5" y1="422.2" x2="702.6" y2="414.9" stroke="#0000A8" stroke-width="1.4"/>
<polygon points="705.5,410.8 704.6,416.2 700.7,413.5" fill="#0000A8"/>
<line x1="705.0" y1="422.6" x2="709.5" y2="414.8" stroke="#0000A8" stroke-width="1.4"/>
<polygon points="712.0,410.4 711.6,416.0 707.4,413.6" fill="#0000A8"/>
<line x1="713.7" y1="423.3" x2="716.0" y2="414.6" stroke="#0000A8" stroke-width="1.4"/>
<polygon points="717.3,409.7 718.3,415.2 713.7,413.9" fill="#0000A8"/>
<line x1="721.9" y1="423.5" x2="722.7" y2="414.5" stroke="#0000A8" stroke-width="1.4"/>
<polygon points="723.1,409.5 725.1,414.7 720.3,414.3" fill="#0000A8"/>
<line x1="729.5" y1="423.5" x2="729.5" y2="414.5" stroke="#0000A8" stroke-width="1.4"/>
<polygon points="729.5,409.5 731.9,414.5 727.1,414.5" fill="#0000A8"/>
<line x1="736.5" y1="423.5" x2="736.5" y2="414.5" stroke="#0000A8" stroke-width="1.4"/>
<polygon points="736.5,409.5 738.9,414.5 734.1,414.5" fill="#0000A8"/>
<line x1="743.1" y1="423.5" x2="743.6" y2="414.5" stroke="#0000A8" stroke-width="1.4"/>
<polygon points="743.9,409.5 746.0,414.6 741.2,414.4" fill="#0000A8"/>
<line x1="750.5" y1="423.5" x2="750.5" y2="414.5" stroke="#0000A8" stroke-width="1.4"/>
<polygon points="750.5,409.5 752.9,414.5 748.1,414.5" fill="#0000A8"/>
<line x1="758.1" y1="423.5" x2="757.3" y2="414.5" stroke="#0000A8" stroke-width="1.4"/>
<polygon points="756.9,409.5 759.7,414.3 754.9,414.7" fill="#0000A8"/>
</g>
<g clip-path="url(#cC)">
<circle cx="342.5" cy="452.2" r="3.0" fill="#A81C1C"/>
<circle cx="349.5" cy="453.0" r="3.0" fill="#A81C1C"/>
<circle cx="356.5" cy="453.8" r="3.0" fill="#A81C1C"/>
<circle cx="363.5" cy="453.8" r="3.0" fill="#A81C1C"/>
<circle cx="370.5" cy="456.4" r="3.0" fill="#A81C1C"/>
<circle cx="377.5" cy="462.9" r="3.0" fill="#A81C1C"/>
<circle cx="384.5" cy="465.3" r="3.0" fill="#A81C1C"/>
<circle cx="391.5" cy="464.8" r="3.0" fill="#A81C1C"/>
<circle cx="398.5" cy="465.6" r="3.0" fill="#A81C1C"/>
<circle cx="405.5" cy="464.0" r="3.0" fill="#A81C1C"/>
<circle cx="412.5" cy="462.7" r="3.0" fill="#A81C1C"/>
<circle cx="419.5" cy="461.4" r="3.0" fill="#A81C1C"/>
<circle cx="426.5" cy="458.2" r="3.0" fill="#A81C1C"/>
<circle cx="434.5" cy="459.0" r="3.0" fill="#A81C1C"/>
<circle cx="441.5" cy="460.3" r="3.0" fill="#A81C1C"/>
<circle cx="448.5" cy="461.4" r="3.0" fill="#A81C1C"/>
<circle cx="455.5" cy="458.2" r="3.0" fill="#A81C1C"/>
<circle cx="462.5" cy="459.0" r="3.0" fill="#A81C1C"/>
<circle cx="469.5" cy="459.0" r="3.0" fill="#A81C1C"/>
<circle cx="476.5" cy="458.2" r="3.0" fill="#A81C1C"/>
<circle cx="483.5" cy="458.2" r="3.0" fill="#A81C1C"/>
<circle cx="490.5" cy="459.0" r="3.0" fill="#A81C1C"/>
<circle cx="497.5" cy="466.6" r="3.0" fill="#A81C1C"/>
<circle cx="532.5" cy="478.7" r="3.0" fill="#A81C1C"/>
<circle cx="553.5" cy="502.3" r="3.0" fill="#A81C1C"/>
<circle cx="560.5" cy="478.1" r="3.0" fill="#A81C1C"/>
<circle cx="567.5" cy="478.1" r="3.0" fill="#A81C1C"/>
<circle cx="574.5" cy="478.1" r="3.0" fill="#A81C1C"/>
<circle cx="581.5" cy="506.6" r="3.0" fill="#A81C1C"/>
<circle cx="588.5" cy="506.6" r="3.0" fill="#A81C1C"/>
<circle cx="595.5" cy="506.6" r="3.0" fill="#A81C1C"/>
<circle cx="616.5" cy="474.9" r="3.0" fill="#A81C1C"/>
<circle cx="624.5" cy="474.9" r="3.0" fill="#A81C1C"/>
<circle cx="631.5" cy="474.9" r="3.0" fill="#A81C1C"/>
<circle cx="638.5" cy="474.9" r="3.0" fill="#A81C1C"/>
<circle cx="645.5" cy="476.3" r="3.0" fill="#A81C1C"/>
<circle cx="652.5" cy="476.3" r="3.0" fill="#A81C1C"/>
<circle cx="659.5" cy="475.7" r="3.0" fill="#A81C1C"/>
<circle cx="666.5" cy="476.3" r="3.0" fill="#A81C1C"/>
<circle cx="673.5" cy="478.1" r="3.0" fill="#A81C1C"/>
<circle cx="680.5" cy="478.1" r="3.0" fill="#A81C1C"/>
<circle cx="687.5" cy="478.1" r="3.0" fill="#A81C1C"/>
<circle cx="694.5" cy="478.1" r="3.0" fill="#A81C1C"/>
<circle cx="701.5" cy="478.1" r="3.0" fill="#A81C1C"/>
<circle cx="708.5" cy="447.3" r="3.0" fill="#A81C1C"/>
<circle cx="715.5" cy="447.3" r="3.0" fill="#A81C1C"/>
<circle cx="722.5" cy="447.3" r="3.0" fill="#A81C1C"/>
<circle cx="729.5" cy="447.3" r="3.0" fill="#A81C1C"/>
<circle cx="736.5" cy="447.3" r="3.0" fill="#A81C1C"/>
<circle cx="743.5" cy="448.6" r="3.0" fill="#A81C1C"/>
<circle cx="750.5" cy="448.6" r="3.0" fill="#A81C1C"/>
<circle cx="757.5" cy="450.8" r="3.0" fill="#A81C1C"/>
<circle cx="342.5" cy="509.9" r="3.0" fill="#FFFFFF"/>
<circle cx="349.5" cy="509.9" r="3.0" fill="#FFFFFF"/>
<circle cx="356.5" cy="509.9" r="3.0" fill="#FFFFFF"/>
<circle cx="363.5" cy="510.7" r="3.0" fill="#FFFFFF"/>
<circle cx="370.5" cy="509.9" r="3.0" fill="#FFFFFF"/>
<circle cx="377.5" cy="509.9" r="3.0" fill="#FFFFFF"/>
<circle cx="384.5" cy="509.3" r="3.0" fill="#FFFFFF"/>
<circle cx="391.5" cy="509.9" r="3.0" fill="#FFFFFF"/>
<circle cx="398.5" cy="508.6" r="3.0" fill="#FFFFFF"/>
<circle cx="405.5" cy="509.9" r="3.0" fill="#FFFFFF"/>
<circle cx="412.5" cy="509.9" r="3.0" fill="#FFFFFF"/>
<circle cx="419.5" cy="508.8" r="3.0" fill="#FFFFFF"/>
<circle cx="426.5" cy="508.8" r="3.0" fill="#FFFFFF"/>
<circle cx="434.5" cy="509.9" r="3.0" fill="#FFFFFF"/>
<circle cx="441.5" cy="509.9" r="3.0" fill="#FFFFFF"/>
<circle cx="448.5" cy="509.9" r="3.0" fill="#FFFFFF"/>
<circle cx="455.5" cy="510.7" r="3.0" fill="#FFFFFF"/>
<circle cx="462.5" cy="510.7" r="3.0" fill="#FFFFFF"/>
<circle cx="469.5" cy="510.1" r="3.0" fill="#FFFFFF"/>
<circle cx="476.5" cy="510.1" r="3.0" fill="#FFFFFF"/>
<circle cx="483.5" cy="503.3" r="3.0" fill="#FFFFFF"/>
<circle cx="490.5" cy="476.6" r="3.0" fill="#FFFFFF"/>
<circle cx="497.5" cy="491.0" r="3.0" fill="#FFFFFF"/>
<circle cx="504.5" cy="492.3" r="3.0" fill="#FFFFFF"/>
<circle cx="511.5" cy="493.6" r="3.0" fill="#FFFFFF"/>
<circle cx="525.5" cy="492.8" r="3.0" fill="#FFFFFF"/>
<circle cx="532.5" cy="483.1" r="3.0" fill="#FFFFFF"/>
<circle cx="546.5" cy="508.6" r="3.0" fill="#FFFFFF"/>
<circle cx="546.5" cy="508.5" r="3.0" fill="#FFFFFF"/>
<circle cx="553.5" cy="510.3" r="3.0" fill="#FFFFFF"/>
<circle cx="560.5" cy="510.3" r="3.0" fill="#FFFFFF"/>
<circle cx="567.5" cy="511.2" r="3.0" fill="#FFFFFF"/>
<circle cx="595.5" cy="509.8" r="3.0" fill="#FFFFFF"/>
<circle cx="602.5" cy="507.9" r="3.0" fill="#FFFFFF"/>
<circle cx="609.5" cy="488.9" r="3.0" fill="#FFFFFF"/>
<circle cx="616.5" cy="493.2" r="3.0" fill="#FFFFFF"/>
<circle cx="624.5" cy="492.4" r="3.0" fill="#FFFFFF"/>
<circle cx="631.5" cy="493.2" r="3.0" fill="#FFFFFF"/>
<circle cx="638.5" cy="493.2" r="3.0" fill="#FFFFFF"/>
<circle cx="645.5" cy="495.1" r="3.0" fill="#FFFFFF"/>
<circle cx="652.5" cy="497.7" r="3.0" fill="#FFFFFF"/>
<circle cx="659.5" cy="499.1" r="3.0" fill="#FFFFFF"/>
<circle cx="666.5" cy="499.1" r="3.0" fill="#FFFFFF"/>
<circle cx="673.5" cy="510.3" r="3.0" fill="#FFFFFF"/>
<circle cx="680.5" cy="496.9" r="3.0" fill="#FFFFFF"/>
<circle cx="687.5" cy="496.9" r="3.0" fill="#FFFFFF"/>
<circle cx="694.5" cy="495.1" r="3.0" fill="#FFFFFF"/>
<circle cx="701.5" cy="494.2" r="3.0" fill="#FFFFFF"/>
<circle cx="708.5" cy="510.3" r="3.0" fill="#FFFFFF"/>
<circle cx="715.5" cy="510.3" r="3.0" fill="#FFFFFF"/>
<circle cx="722.5" cy="510.3" r="3.0" fill="#FFFFFF"/>
<circle cx="729.5" cy="510.3" r="3.0" fill="#FFFFFF"/>
<circle cx="736.5" cy="510.3" r="3.0" fill="#FFFFFF"/>
<circle cx="743.5" cy="510.3" r="3.0" fill="#FFFFFF"/>
<circle cx="750.5" cy="510.3" r="3.0" fill="#FFFFFF"/>
<circle cx="757.5" cy="510.3" r="3.0" fill="#FFFFFF"/>
<circle cx="342.5" cy="502.8" r="3.0" fill="#C8C8C8"/>
<circle cx="349.5" cy="504.1" r="3.0" fill="#C8C8C8"/>
<circle cx="356.5" cy="506.7" r="3.0" fill="#C8C8C8"/>
<circle cx="363.5" cy="506.7" r="3.0" fill="#C8C8C8"/>
<circle cx="370.5" cy="506.7" r="3.0" fill="#C8C8C8"/>
<circle cx="377.5" cy="502.8" r="3.0" fill="#C8C8C8"/>
<circle cx="384.5" cy="502.3" r="3.0" fill="#C8C8C8"/>
<circle cx="391.5" cy="502.3" r="3.0" fill="#C8C8C8"/>
<circle cx="398.5" cy="501.5" r="3.0" fill="#C8C8C8"/>
<circle cx="405.5" cy="499.6" r="3.0" fill="#C8C8C8"/>
<circle cx="412.5" cy="504.1" r="3.0" fill="#C8C8C8"/>
<circle cx="434.5" cy="508.0" r="3.0" fill="#C8C8C8"/>
<circle cx="441.5" cy="504.1" r="3.0" fill="#C8C8C8"/>
<circle cx="448.5" cy="502.8" r="3.0" fill="#C8C8C8"/>
<circle cx="476.5" cy="501.5" r="3.0" fill="#C8C8C8"/>
<circle cx="532.5" cy="481.8" r="3.0" fill="#C8C8C8"/>
<circle cx="560.5" cy="508.5" r="3.0" fill="#C8C8C8"/>
<circle cx="595.5" cy="509.3" r="3.0" fill="#C8C8C8"/>
<circle cx="616.5" cy="480.3" r="3.0" fill="#C8C8C8"/>
<circle cx="624.5" cy="484.3" r="3.0" fill="#C8C8C8"/>
<circle cx="638.5" cy="492.4" r="3.0" fill="#C8C8C8"/>
<circle cx="645.5" cy="494.2" r="3.0" fill="#C8C8C8"/>
<circle cx="652.5" cy="491.6" r="3.0" fill="#C8C8C8"/>
<circle cx="666.5" cy="486.5" r="3.0" fill="#C8C8C8"/>
<circle cx="673.5" cy="489.2" r="3.0" fill="#C8C8C8"/>
<circle cx="701.5" cy="489.2" r="3.0" fill="#C8C8C8"/>
<circle cx="708.5" cy="490.2" r="3.0" fill="#C8C8C8"/>
<circle cx="715.5" cy="490.5" r="3.0" fill="#C8C8C8"/>
<circle cx="736.5" cy="489.2" r="3.0" fill="#C8C8C8"/>
<circle cx="743.5" cy="489.2" r="3.0" fill="#C8C8C8"/>
<circle cx="750.5" cy="490.2" r="3.0" fill="#C8C8C8"/>
<circle cx="757.5" cy="489.2" r="3.0" fill="#C8C8C8"/>
<circle cx="342.5" cy="498.9" r="3.0" fill="#909090"/>
<circle cx="349.5" cy="502.8" r="3.0" fill="#909090"/>
<circle cx="356.5" cy="502.3" r="3.0" fill="#909090"/>
<circle cx="363.5" cy="501.5" r="3.0" fill="#909090"/>
<circle cx="370.5" cy="501.5" r="3.0" fill="#909090"/>
<circle cx="377.5" cy="500.7" r="3.0" fill="#909090"/>
<circle cx="384.5" cy="497.5" r="3.0" fill="#909090"/>
<circle cx="391.5" cy="500.7" r="3.0" fill="#909090"/>
<circle cx="398.5" cy="500.7" r="3.0" fill="#909090"/>
<circle cx="405.5" cy="498.9" r="3.0" fill="#909090"/>
<circle cx="412.5" cy="502.8" r="3.0" fill="#909090"/>
<circle cx="419.5" cy="504.1" r="3.0" fill="#909090"/>
<circle cx="426.5" cy="502.3" r="3.0" fill="#909090"/>
<circle cx="434.5" cy="505.4" r="3.0" fill="#909090"/>
<circle cx="441.5" cy="502.8" r="3.0" fill="#909090"/>
<circle cx="448.5" cy="501.5" r="3.0" fill="#909090"/>
<circle cx="455.5" cy="504.1" r="3.0" fill="#909090"/>
<circle cx="462.5" cy="503.3" r="3.0" fill="#909090"/>
<circle cx="469.5" cy="502.8" r="3.0" fill="#909090"/>
<circle cx="476.5" cy="501.5" r="3.0" fill="#909090"/>
<circle cx="567.5" cy="509.3" r="3.0" fill="#909090"/>
<circle cx="574.5" cy="510.3" r="3.0" fill="#909090"/>
<circle cx="609.5" cy="475.5" r="3.0" fill="#909090"/>
<circle cx="624.5" cy="481.6" r="3.0" fill="#909090"/>
<circle cx="631.5" cy="489.2" r="3.0" fill="#909090"/>
<circle cx="638.5" cy="489.7" r="3.0" fill="#909090"/>
<circle cx="652.5" cy="492.4" r="3.0" fill="#909090"/>
<circle cx="659.5" cy="488.9" r="3.0" fill="#909090"/>
<circle cx="666.5" cy="487.0" r="3.0" fill="#909090"/>
<circle cx="673.5" cy="481.6" r="3.0" fill="#909090"/>
<circle cx="680.5" cy="482.4" r="3.0" fill="#909090"/>
<circle cx="708.5" cy="488.3" r="3.0" fill="#909090"/>
<circle cx="342.5" cy="494.9" r="3.0" fill="#505050"/>
<circle cx="349.5" cy="494.9" r="3.0" fill="#505050"/>
<circle cx="356.5" cy="491.0" r="3.0" fill="#505050"/>
<circle cx="363.5" cy="498.9" r="3.0" fill="#505050"/>
<circle cx="377.5" cy="496.2" r="3.0" fill="#505050"/>
<circle cx="384.5" cy="484.4" r="3.0" fill="#505050"/>
<circle cx="391.5" cy="493.6" r="3.0" fill="#505050"/>
<circle cx="398.5" cy="494.9" r="3.0" fill="#505050"/>
<circle cx="419.5" cy="501.0" r="3.0" fill="#505050"/>
<circle cx="426.5" cy="501.5" r="3.0" fill="#505050"/>
<circle cx="434.5" cy="503.3" r="3.0" fill="#505050"/>
<circle cx="441.5" cy="499.6" r="3.0" fill="#505050"/>
<circle cx="448.5" cy="499.6" r="3.0" fill="#505050"/>
<circle cx="455.5" cy="502.8" r="3.0" fill="#505050"/>
<circle cx="462.5" cy="501.5" r="3.0" fill="#505050"/>
<circle cx="469.5" cy="500.7" r="3.0" fill="#505050"/>
<circle cx="476.5" cy="499.6" r="3.0" fill="#505050"/>
<circle cx="532.5" cy="479.7" r="3.0" fill="#505050"/>
<circle cx="581.5" cy="509.8" r="3.0" fill="#505050"/>
<circle cx="588.5" cy="509.8" r="3.0" fill="#505050"/>
<circle cx="616.5" cy="476.3" r="3.0" fill="#505050"/>
<circle cx="631.5" cy="483.0" r="3.0" fill="#505050"/>
<circle cx="645.5" cy="487.0" r="3.0" fill="#505050"/>
<circle cx="659.5" cy="477.6" r="3.0" fill="#505050"/>
<circle cx="673.5" cy="480.3" r="3.0" fill="#505050"/>
<circle cx="680.5" cy="481.6" r="3.0" fill="#505050"/>
<circle cx="687.5" cy="481.6" r="3.0" fill="#505050"/>
<circle cx="694.5" cy="481.6" r="3.0" fill="#505050"/>
<circle cx="701.5" cy="481.6" r="3.0" fill="#505050"/>
<circle cx="342.5" cy="479.2" r="3.0" fill="#000000"/>
<circle cx="349.5" cy="485.2" r="3.0" fill="#000000"/>
<circle cx="363.5" cy="487.8" r="3.0" fill="#000000"/>
<circle cx="370.5" cy="494.1" r="3.0" fill="#000000"/>
<circle cx="377.5" cy="485.0" r="3.0" fill="#000000"/>
<circle cx="384.5" cy="483.1" r="3.0" fill="#000000"/>
<circle cx="398.5" cy="489.7" r="3.0" fill="#000000"/>
<circle cx="405.5" cy="491.5" r="3.0" fill="#000000"/>
<circle cx="412.5" cy="492.3" r="3.0" fill="#000000"/>
<circle cx="419.5" cy="493.6" r="3.0" fill="#000000"/>
<circle cx="426.5" cy="494.9" r="3.0" fill="#000000"/>
<circle cx="434.5" cy="498.9" r="3.0" fill="#000000"/>
<circle cx="441.5" cy="495.7" r="3.0" fill="#000000"/>
<circle cx="448.5" cy="496.2" r="3.0" fill="#000000"/>
<circle cx="455.5" cy="501.5" r="3.0" fill="#000000"/>
<circle cx="462.5" cy="499.6" r="3.0" fill="#000000"/>
<circle cx="469.5" cy="498.9" r="3.0" fill="#000000"/>
<circle cx="476.5" cy="496.2" r="3.0" fill="#000000"/>
<circle cx="483.5" cy="494.1" r="3.0" fill="#000000"/>
<circle cx="624.5" cy="476.3" r="3.0" fill="#000000"/>
<circle cx="631.5" cy="476.8" r="3.0" fill="#000000"/>
<circle cx="638.5" cy="485.1" r="3.0" fill="#000000"/>
<circle cx="645.5" cy="476.3" r="3.0" fill="#000000"/>
<polyline points="342.5,464.8 349.4,476.6 356.0,473.4 363.8,481.8 370.4,478.7 377.0,459.5 384.8,467.4 391.4,457.4 398.7,475.3 405.8,481.8 412.9,482.6 419.7,483.1 426.8,488.4 433.8,487.8 441.2,483.7 447.7,485.0 455.1,483.1 462.2,484.4 469.2,483.1 476.6,484.4 483.7,472.6 489.7,455.1 502.8,454.3 518.5,454.8 534.3,455.6 545.0,455.6 553.0,457.5 561.1,460.2 567.8,464.2 574.5,468.2 581.8,472.8 587.9,471.7 596.0,462.9 602.7,457.0 609.4,452.9 616.6,450.2 623.6,450.0 630.9,451.6 637.6,455.6 644.8,454.8 651.8,458.8 659.0,466.3 665.7,470.1 673.0,472.2 680.5,471.7 693.9,470.9 702.0,472.2 715.4,473.1 722.1,474.4 736.8,476.8 743.6,475.7 757.5,475.5" fill="none" stroke="#FF9400" stroke-width="2" stroke-linejoin="round"/>
</g>
<g clip-path="url(#cN)">
<polygon points="342.5,603.5 342.0,526.0 349.7,534.1 356.1,537.4 360.1,538.1 363.5,526.7 370.6,552.9 377.6,533.4 384.3,533.4 391.6,548.8 398.4,560.2 405.7,534.8 413.1,533.4 420.5,529.1 427.2,528.3 433.9,536.8 441.3,532.1 448.0,536.8 445.0,535.4 448.4,537.4 455.1,526.0 477.2,526.0 482.6,534.8 485.2,553.5 487.9,573.7 490.6,592.4 494.6,599.1 501.3,602.5 505.4,603.4 505.4,603.5" fill="#9A9A9A" />
<polygon points="603.0,603.4 609.0,595.1 617.1,567.0 623.1,535.4 630.5,532.1 637.9,532.1 641.2,546.8 649.3,573.7 654.6,589.8 660.0,599.1 659.0,603.4" fill="#9A9A9A" />
<polygon points="342.5,603.5 342.0,544.8 349.7,534.5 356.1,537.4 360.1,538.1 363.5,526.4 370.9,533.4 376.9,533.4 385.6,549.8 391.6,547.9 398.4,543.5 405.7,533.4 413.1,530.1 420.5,528.0 427.2,526.7 433.9,526.2 442.0,525.9 450.0,525.9 445.0,525.9 475.9,525.9 477.2,526.7 481.2,536.1 483.9,553.5 486.6,573.7 489.3,592.4 492.0,599.1 498.7,602.5 504.0,603.4 504.0,603.5" fill="#555555" />
<polygon points="525.2,603.4 532.2,583.7 539.8,603.4" fill="#555555" />
<polygon points="603.4,603.4 609.0,593.8 617.1,572.3 623.1,556.2 630.5,548.2 637.9,544.8 642.6,553.5 647.9,564.3 652.0,571.6 660.0,573.7 659.0,573.7 663.0,579.0 668.4,584.4 673.8,586.4 680.5,583.0 687.2,577.0 693.9,573.7 700.6,574.3 707.3,580.4 714.0,583.0 718.0,586.4 724.8,589.1 730.1,588.4 735.5,591.1 743.5,592.4 748.9,591.1 752.9,589.8 758.3,591.8 758.3,603.8" fill="#555555" />
<polygon points="342.5,603.5 342.0,591.1 346.7,583.0 356.1,577.7 363.5,575.7 370.9,583.0 377.6,585.7 384.3,591.1 391.0,596.5 398.4,601.8 405.7,600.5 412.4,599.1 420.5,601.8 427.2,600.5 433.9,593.8 442.0,597.8 446.0,601.8 450.0,600.5 445.0,601.8 449.0,602.5 455.7,599.8 462.4,600.5 469.1,601.8 475.9,603.4" fill="#3C3C3C" />
<polygon points="554.0,603.4 563.4,596.5 574.1,591.8 582.2,589.1 588.9,593.8 595.6,599.1 601.6,603.4" fill="#3C3C3C" />
<polyline points="342.0,526.0 349.7,534.1 356.1,537.4 360.1,538.1 363.5,526.7 370.6,552.9 377.6,533.4 384.3,533.4 391.6,548.8 398.4,560.2 405.7,534.8 413.1,533.4 420.5,529.1 427.2,528.3 433.9,536.8 441.3,532.1 448.0,536.8 445.0,535.4 448.4,537.4 455.1,526.0" fill="none" stroke="#A8A8A8" stroke-width="0.9" />
<polyline points="603.7,602.5 609.0,596.5 617.1,568.3" fill="none" stroke="#A8A8A8" stroke-width="0.8" />
<polyline points="642.6,553.5 649.3,573.7 654.6,589.8 660.0,599.1 659.0,596.5 664.4,602.5" fill="none" stroke="#A8A8A8" stroke-width="0.8" />
<polyline points="342.0,544.8 349.7,534.5 356.1,546.6 360.1,538.8 363.9,538.1 366.8,564.3 370.2,591.1 372.9,603.2 419.1,603.2 427.2,599.1 433.9,602.5 440.6,602.5 446.0,587.1 450.0,565.6 448.4,571.0 455.1,537.2 461.8,542.1 469.1,562.9 475.9,578.4 483.2,585.1 490.6,601.2 498.7,603.2" fill="none" stroke="#FFFFFF" stroke-width="1.1" stroke-linejoin="round"/>
<polygon points="349.7,534.5 356.1,546.6 360.1,538.8 356.1,537.4" fill="#FFFFFF" />
<polyline points="695.2,602.9 702.0,599.1 708.7,597.1 714.0,594.5 720.7,589.8 727.4,588.4 732.8,589.8 738.2,593.8 744.9,597.1 758.3,599.1" fill="none" stroke="#FFFFFF" stroke-width="1.1" stroke-linejoin="round"/>
<rect x="348.0" y="597.5" width="3" height="8.0" rx="1.2" fill="#FFBE00"/>
<rect x="355.0" y="589.5" width="3" height="16.0" rx="1.2" fill="#FFBE00"/>
<rect x="362.0" y="591.8" width="3" height="13.7" rx="1.2" fill="#FFBE00"/>
<rect x="369.0" y="591.8" width="3" height="13.7" rx="1.2" fill="#FFBE00"/>
<rect x="376.0" y="592.4" width="3" height="13.1" rx="1.2" fill="#FFBE00"/>
<rect x="383.0" y="600.5" width="3" height="5.0" rx="1.2" fill="#FFBE00"/>
<rect x="390.0" y="598.5" width="3" height="7.0" rx="1.2" fill="#FFBE00"/>
<rect x="404.0" y="600.5" width="3" height="5.0" rx="1.2" fill="#FFBE00"/>
<rect x="411.0" y="596.5" width="3" height="9.0" rx="1.2" fill="#FFBE00"/>
<rect x="418.0" y="592.4" width="3" height="13.1" rx="1.2" fill="#FFBE00"/>
<rect x="440.0" y="600.5" width="3" height="5.0" rx="1.2" fill="#FFBE00"/>
<rect x="552.0" y="595.8" width="3" height="9.7" rx="1.2" fill="#FFBE00"/>
<rect x="559.0" y="585.7" width="3" height="19.8" rx="1.2" fill="#FFBE00"/>
<rect x="566.0" y="581.0" width="3" height="24.5" rx="1.2" fill="#FFBE00"/>
<rect x="573.0" y="570.7" width="3" height="34.8" rx="1.2" fill="#FFBE00"/>
<rect x="580.0" y="562.9" width="3" height="42.6" rx="1.2" fill="#FFBE00"/>
<rect x="587.0" y="569.9" width="3" height="35.6" rx="1.2" fill="#FFBE00"/>
<rect x="594.0" y="600.5" width="3" height="5.0" rx="1.2" fill="#FFBE00"/>
<rect x="658.0" y="600.5" width="3" height="5.0" rx="1.2" fill="#FFBE00"/>
<rect x="665.0" y="591.8" width="3" height="13.7" rx="1.2" fill="#FFBE00"/>
<rect x="672.0" y="590.4" width="3" height="15.1" rx="1.2" fill="#FFBE00"/>
<rect x="679.0" y="592.4" width="3" height="13.1" rx="1.2" fill="#FFBE00"/>
<rect x="686.0" y="596.5" width="3" height="9.0" rx="1.2" fill="#FFBE00"/>
<rect x="693.0" y="597.5" width="3" height="8.0" rx="1.2" fill="#FFBE00"/>
<rect x="700.0" y="594.5" width="3" height="11.0" rx="1.2" fill="#FFBE00"/>
<rect x="707.0" y="591.5" width="3" height="14.0" rx="1.2" fill="#FFBE00"/>
<rect x="714.0" y="591.8" width="3" height="13.7" rx="1.2" fill="#FFBE00"/>
<rect x="721.0" y="589.8" width="3" height="15.7" rx="1.2" fill="#FFBE00"/>
<rect x="728.0" y="579.7" width="3" height="25.8" rx="1.2" fill="#FFBE00"/>
<rect x="735.0" y="575.7" width="3" height="29.8" rx="1.2" fill="#FFBE00"/>
<rect x="742.0" y="583.7" width="3" height="21.8" rx="1.2" fill="#FFBE00"/>
<rect x="749.0" y="585.7" width="3" height="19.8" rx="1.2" fill="#FFBE00"/>
<rect x="756.0" y="591.8" width="3" height="13.7" rx="1.2" fill="#FFBE00"/>
<rect x="341.0" y="596.5" width="3" height="9.0" rx="1.2" fill="#FFBE00"/>
</g>
<g clip-path="url(#lT)">
<rect x="135.5" y="111.5" width="110" height="23" fill="#88D4FC"/>
<rect x="170" y="111.5" width="62" height="23" fill="#5078ff" fill-opacity="0.10"/>
<polygon points="135.7,88.1 142.6,89.9 149.9,93.6 156.4,97.3 163.7,100.9 171.0,104.6 177.4,106.4 184.7,108.2 192.0,110.1 205.7,111.0 219.5,112.4 233.2,115.5 239.6,111.0 245.4,108.2 245.4,112.8 239.6,117.4 233.2,123.8 226.4,127.4 219.5,127.4 212.1,123.8 205.7,120.1 192.0,118.3 177.4,114.6 163.7,109.1 149.9,102.7 135.7,100.9" fill="#FFE4DC" />
<polygon points="135.7,101.8 149.9,104.6 163.7,109.5 177.4,113.7 192.0,116.1 205.7,117.9 219.5,116.5 233.2,121.9 239.6,116.5 245.4,115.5 245.4,121.0 239.6,127.4 233.2,134.2 219.5,134.2 212.1,132.0 198.4,129.3 184.7,124.7 171.0,116.5 163.7,114.6 149.9,111.9 135.7,111.0" fill="#B8E4FF" />
<line x1="149.5" y1="78.0" x2="149.5" y2="92.7" stroke="#A01818" stroke-width="1"/>
<line x1="156.5" y1="87.2" x2="156.5" y2="99.1" stroke="#A01818" stroke-width="1"/>
<line x1="163.5" y1="97.3" x2="163.5" y2="106.4" stroke="#A01818" stroke-width="1"/>
<line x1="170.5" y1="100.9" x2="170.5" y2="114.6" stroke="#A01818" stroke-width="1"/>
<line x1="177.5" y1="102.7" x2="177.5" y2="118.3" stroke="#A01818" stroke-width="1"/>
<line x1="184.5" y1="105.5" x2="184.5" y2="121.0" stroke="#A01818" stroke-width="1"/>
<line x1="191.5" y1="107.3" x2="191.5" y2="123.8" stroke="#A01818" stroke-width="1"/>
<line x1="198.5" y1="108.2" x2="198.5" y2="126.5" stroke="#A01818" stroke-width="1"/>
<line x1="205.5" y1="109.1" x2="205.5" y2="127.4" stroke="#A01818" stroke-width="1"/>
<line x1="212.5" y1="109.1" x2="212.5" y2="129.3" stroke="#A01818" stroke-width="1"/>
<line x1="219.5" y1="110.1" x2="219.5" y2="131.1" stroke="#A01818" stroke-width="1"/>
<line x1="226.5" y1="111.0" x2="226.5" y2="132.9" stroke="#A01818" stroke-width="1"/>
<line x1="233.5" y1="111.0" x2="233.5" y2="132.9" stroke="#A01818" stroke-width="1"/>
<line x1="240.5" y1="106.4" x2="240.5" y2="120.1" stroke="#A01818" stroke-width="1"/>
<polyline points="135.7,102.7 142.6,103.3 149.9,105.5 156.4,108.2 163.7,110.1 171.0,111.9 177.4,114.3 184.7,114.6 192.0,116.5 198.4,117.7 205.7,118.3 212.1,118.7 219.5,115.9 226.4,119.2 233.2,122.9 239.6,116.5 245.4,115.9" fill="none" stroke="#0000FF" stroke-width="2.2" stroke-linejoin="round"/>
<polyline points="135.7,99.1 142.6,99.1 149.9,100.9 156.4,103.7 163.7,107.3 171.0,111.0 177.4,112.4 184.7,113.2 192.0,114.3 198.4,113.7 205.7,114.1 212.1,114.6 219.5,115.5 226.4,115.5 233.2,118.7 239.6,114.6 245.4,111.9" fill="none" stroke="#FF0000" stroke-width="2.4" stroke-linejoin="round"/>
<rect x="135.7" y="112.3" width="2.8" height="2.8" fill="#6A5ACD"/>
<rect x="142.1" y="112.3" width="2.8" height="2.8" fill="#6A5ACD"/>
<rect x="148.5" y="112.7" width="2.8" height="2.8" fill="#6A5ACD"/>
<rect x="155.0" y="113.2" width="2.8" height="2.8" fill="#6A5ACD"/>
<rect x="162.3" y="113.6" width="2.8" height="2.8" fill="#6A5ACD"/>
<rect x="169.2" y="114.1" width="2.8" height="2.8" fill="#6A5ACD"/>
<rect x="176.4" y="115.1" width="2.8" height="2.8" fill="#6A5ACD"/>
<rect x="183.3" y="115.6" width="2.8" height="2.8" fill="#6A5ACD"/>
<rect x="190.3" y="116.0" width="2.8" height="2.8" fill="#6A5ACD"/>
<rect x="197.2" y="116.9" width="2.8" height="2.8" fill="#6A5ACD"/>
<rect x="204.3" y="117.8" width="2.8" height="2.8" fill="#6A5ACD"/>
<rect x="211.3" y="118.4" width="2.8" height="2.8" fill="#6A5ACD"/>
<rect x="218.1" y="118.7" width="2.8" height="2.8" fill="#6A5ACD"/>
<rect x="225.0" y="118.7" width="2.8" height="2.8" fill="#6A5ACD"/>
<rect x="232.1" y="119.1" width="2.8" height="2.8" fill="#6A5ACD"/>
<rect x="239.1" y="117.8" width="2.8" height="2.8" fill="#6A5ACD"/>
</g>
<g clip-path="url(#lP)">
<rect x="135.5" y="187.1" width="7.5" height="33.4" fill="#0AA00A"/>
<rect x="143.0" y="180.7" width="7.0" height="39.8" fill="#0AA00A"/>
<rect x="150.0" y="178.9" width="6.9" height="41.6" fill="#0AA00A"/>
<rect x="156.9" y="201.8" width="7.1" height="18.7" fill="#0AA00A"/>
<rect x="164.0" y="208.2" width="6.4" height="12.3" fill="#0AA00A"/>
<rect x="170.4" y="218.2" width="6.6" height="2.3" fill="#0AA00A"/>
<rect x="157.2" y="182.2" width="6.8" height="19.6" fill="#1030D0"/>
<rect x="164" y="205.4" width="6.4" height="2.8" fill="#1030D0"/>
<line x1="139.5" y1="165.0" x2="139.5" y2="220" stroke="#0AA00A" stroke-width="1"/>
<line x1="146.5" y1="147.5" x2="146.5" y2="220" stroke="#0AA00A" stroke-width="1"/>
<line x1="153.5" y1="147.5" x2="153.5" y2="220" stroke="#0AA00A" stroke-width="1"/>
<line x1="160.5" y1="171.6" x2="160.5" y2="182.2" stroke="#1030D0" stroke-width="1"/>
<rect x="145.0" y="146" width="3" height="3" fill="#F00000"/>
<rect x="152.0" y="146" width="3" height="3" fill="#F00000"/>
<rect x="138.0" y="219" width="3" height="1.2" fill="#E00000"/>
<rect x="146.0" y="219" width="3" height="1.2" fill="#E00000"/>
<rect x="153.0" y="219" width="3" height="1.2" fill="#E00000"/>
<rect x="160.0" y="219" width="3" height="1.2" fill="#E00000"/>
<polyline points="137.1,172.5 142.6,168.8 146.3,162.4 149.9,157.9 156.4,155.1 163.7,153.3 184.7,152.7 191.1,149.3 198.4,149.3 205.7,154.8 212.1,156.0 219.5,151.8 226.4,149.3 233.2,151.8 239.6,156.9 245.4,164.3" fill="none" stroke="#E84A1A" stroke-width="2" stroke-linejoin="round"/>
<circle cx="139.3" cy="173.4" r="2.4" fill="#FFE000" stroke="#000" stroke-width="0.8"/>
<circle cx="146.6" cy="173.4" r="2.4" fill="#FFA000" stroke="#000" stroke-width="0.8"/>
<circle cx="153.6" cy="173.4" r="2.4" fill="#E80000" stroke="#000" stroke-width="0.8"/>
</g>
<g clip-path="url(#lPr)">
<polygon points="135.3,260.8 143.0,259.9 149.9,253.1 157.3,249.1 164.0,248.9 171.0,245.2 177.4,248.2 184.7,250.4 192.0,253.6 226.4,254.0 233.2,256.8 239.6,260.8 245.6,265.0 245.5,306.5 135.5,306.5" fill="#FFFF00" />
<clipPath id="lPrF"><polygon points="135.3,260.8 143.0,259.9 149.9,253.1 157.3,249.1 164.0,248.9 171.0,245.2 177.4,248.2 184.7,250.4 192.0,253.6 226.4,254.0 233.2,256.8 239.6,260.8 245.6,265.0 245.5,306.5 135.5,306.5"/></clipPath>
<rect x="164" y="230" width="6.5" height="77" fill="#FFE000" clip-path="url(#lPrF)"/>
<polyline points="135.3,260.8 143.0,259.9 149.9,253.1 157.3,249.1 164.0,248.9 171.0,245.2 177.4,248.2 184.7,250.4 192.0,253.6 226.4,254.0 233.2,256.8 239.6,260.8 245.6,265.0" fill="none" stroke="#000" stroke-width="2.4" stroke-linejoin="round"/>
</g>
<clipPath id="lWF"><polygon points="135.1,365.1 139.8,368.0 147.7,371.0 155.6,372.0 164.4,373.0 170.3,374.3 178.2,375.5 185.1,374.9 191.0,373.6 197.9,372.4 210.7,372.4 225.8,372.4 232.3,371.0 240.2,370.0 246.5,370.0 245.5,392.5 135.5,392.5"/></clipPath>
<g clip-path="url(#lWF)">
<rect x="135.5" y="315" width="12.5" height="78" fill="#18C818"/>
<rect x="147.7" y="315" width="21.3" height="78" fill="#0A800A"/>
<rect x="168.7" y="315" width="28.5" height="78" fill="#004E8C"/>
<rect x="196.9" y="315" width="14.1" height="78" fill="#0A800A"/>
<rect x="210.7" y="315" width="15.0" height="78" fill="#004E8C"/>
<rect x="225.4" y="315" width="14.1" height="78" fill="#0A800A"/>
<rect x="239.2" y="315" width="7.1" height="78" fill="#18C818"/>
</g>
<g clip-path="url(#lW)">
<polyline points="135.1,365.1 139.8,368.0 147.7,371.0 155.6,372.0 164.4,373.0 170.3,374.3 178.2,375.5 185.1,374.9 191.0,373.6 197.9,372.4 210.7,372.4 225.8,372.4 232.3,371.0 240.2,370.0 246.5,370.0" fill="none" stroke="#0000A0" stroke-width="2" stroke-linejoin="round"/>
<line x1="141.8" y1="340.5" x2="148.7" y2="340.5" stroke="#F00000" stroke-width="1"/>
<line x1="148.7" y1="347.5" x2="155.6" y2="347.5" stroke="#F00000" stroke-width="1"/>
<line x1="155.6" y1="348.5" x2="162.4" y2="348.5" stroke="#F00000" stroke-width="1"/>
<line x1="162.4" y1="351.5" x2="169.3" y2="351.5" stroke="#F00000" stroke-width="1"/>
<line x1="169.3" y1="355.5" x2="177.2" y2="355.5" stroke="#F00000" stroke-width="1"/>
<line x1="176.2" y1="358.5" x2="184.1" y2="358.5" stroke="#F00000" stroke-width="1"/>
<line x1="184.1" y1="354.5" x2="191.0" y2="354.5" stroke="#F00000" stroke-width="1"/>
<line x1="191.0" y1="350.5" x2="197.9" y2="350.5" stroke="#F00000" stroke-width="1"/>
<line x1="197.9" y1="349.5" x2="204.8" y2="349.5" stroke="#F00000" stroke-width="1"/>
<line x1="204.8" y1="349.5" x2="211.7" y2="349.5" stroke="#F00000" stroke-width="1"/>
<line x1="211.7" y1="350.5" x2="218.6" y2="350.5" stroke="#F00000" stroke-width="1"/>
<line x1="218.6" y1="351.5" x2="225.4" y2="351.5" stroke="#F00000" stroke-width="1"/>
<line x1="225.8" y1="347.5" x2="232.3" y2="347.5" stroke="#F00000" stroke-width="1"/>
<line x1="232.3" y1="343.5" x2="239.2" y2="343.5" stroke="#F00000" stroke-width="1"/>
<line x1="239.2" y1="342.5" x2="246.1" y2="342.5" stroke="#F00000" stroke-width="1"/>
<rect x="137" y="316" width="3" height="2" fill="#F00000"/>
</g>
<line x1="133.9" y1="405.1" x2="139.0" y2="417.5" stroke="#0000A8" stroke-width="1.4"/>
<polygon points="141.5,423.5 136.2,418.7 141.9,416.3" fill="#0000A8"/>
<line x1="140.6" y1="405.1" x2="145.8" y2="417.5" stroke="#0000A8" stroke-width="1.4"/>
<polygon points="148.3,423.5 142.9,418.7 148.7,416.3" fill="#0000A8"/>
<line x1="147.4" y1="405.1" x2="152.6" y2="417.5" stroke="#0000A8" stroke-width="1.4"/>
<polygon points="155.1,423.5 149.7,418.7 155.4,416.3" fill="#0000A8"/>
<line x1="154.2" y1="405.1" x2="159.3" y2="417.5" stroke="#0000A8" stroke-width="1.4"/>
<polygon points="161.8,423.5 156.5,418.7 162.2,416.3" fill="#0000A8"/>
<line x1="161.0" y1="405.1" x2="166.1" y2="417.5" stroke="#0000A8" stroke-width="1.4"/>
<polygon points="168.6,423.5 163.3,418.7 169.0,416.3" fill="#0000A8"/>
<line x1="167.7" y1="405.1" x2="172.9" y2="417.5" stroke="#0000A8" stroke-width="1.4"/>
<polygon points="175.4,423.5 170.0,418.7 175.8,416.3" fill="#0000A8"/>
<line x1="174.5" y1="405.1" x2="179.7" y2="417.5" stroke="#0000A8" stroke-width="1.4"/>
<polygon points="182.1,423.5 176.8,418.7 182.5,416.3" fill="#0000A8"/>
<line x1="181.3" y1="405.1" x2="186.4" y2="417.5" stroke="#0000A8" stroke-width="1.4"/>
<polygon points="188.9,423.5 183.6,418.7 189.3,416.3" fill="#0000A8"/>
<line x1="188.0" y1="405.1" x2="193.2" y2="417.5" stroke="#0000A8" stroke-width="1.4"/>
<polygon points="195.7,423.5 190.3,418.7 196.1,416.3" fill="#0000A8"/>
<line x1="194.8" y1="405.1" x2="200.0" y2="417.5" stroke="#0000A8" stroke-width="1.4"/>
<polygon points="202.5,423.5 197.1,418.7 202.8,416.3" fill="#0000A8"/>
<line x1="201.6" y1="405.1" x2="206.7" y2="417.5" stroke="#0000A8" stroke-width="1.4"/>
<polygon points="209.2,423.5 203.9,418.7 209.6,416.3" fill="#0000A8"/>
<line x1="208.3" y1="405.1" x2="213.5" y2="417.5" stroke="#0000A8" stroke-width="1.4"/>
<polygon points="216.0,423.5 210.6,418.7 216.4,416.3" fill="#0000A8"/>
<line x1="215.1" y1="405.1" x2="220.3" y2="417.5" stroke="#0000A8" stroke-width="1.4"/>
<polygon points="222.8,423.5 217.4,418.7 223.1,416.3" fill="#0000A8"/>
<line x1="221.9" y1="405.1" x2="227.0" y2="417.5" stroke="#0000A8" stroke-width="1.4"/>
<polygon points="229.5,423.5 224.2,418.7 229.9,416.3" fill="#0000A8"/>
<line x1="228.7" y1="405.1" x2="233.8" y2="417.5" stroke="#0000A8" stroke-width="1.4"/>
<polygon points="236.3,423.5 231.0,418.7 236.7,416.3" fill="#0000A8"/>
<line x1="235.4" y1="405.1" x2="240.6" y2="417.5" stroke="#0000A8" stroke-width="1.4"/>
<polygon points="243.1,423.5 237.7,418.7 243.5,416.3" fill="#0000A8"/>
<line x1="242.2" y1="405.1" x2="247.4" y2="417.5" stroke="#0000A8" stroke-width="1.4"/>
<polygon points="249.8,423.5 244.5,418.7 250.2,416.3" fill="#0000A8"/>
<g clip-path="url(#lC)">
<circle cx="137.1" cy="475.6" r="2.9" fill="#A81C1C"/>
<circle cx="143.5" cy="475.6" r="2.9" fill="#A81C1C"/>
<circle cx="150.3" cy="458.2" r="2.9" fill="#A81C1C"/>
<circle cx="157.3" cy="458.2" r="2.9" fill="#A81C1C"/>
<circle cx="164.6" cy="460.0" r="2.9" fill="#A81C1C"/>
<circle cx="170.4" cy="451.2" r="2.9" fill="#A81C1C"/>
<circle cx="177.4" cy="449.6" r="2.9" fill="#A81C1C"/>
<circle cx="184.3" cy="449.6" r="2.9" fill="#A81C1C"/>
<circle cx="191.5" cy="449.6" r="2.9" fill="#A81C1C"/>
<circle cx="198.4" cy="451.2" r="2.9" fill="#A81C1C"/>
<circle cx="204.8" cy="449.6" r="2.9" fill="#A81C1C"/>
<circle cx="211.6" cy="449.6" r="2.9" fill="#A81C1C"/>
<circle cx="218.5" cy="449.6" r="2.9" fill="#A81C1C"/>
<circle cx="225.5" cy="449.6" r="2.9" fill="#A81C1C"/>
<circle cx="232.3" cy="449.6" r="2.9" fill="#A81C1C"/>
<circle cx="239.2" cy="449.6" r="2.9" fill="#A81C1C"/>
<circle cx="245.1" cy="449.6" r="2.9" fill="#A81C1C"/>
<circle cx="137.1" cy="508.5" r="2.9" fill="#FFFFFF"/>
<circle cx="143.5" cy="505.7" r="2.9" fill="#FFFFFF"/>
<circle cx="150.3" cy="500.3" r="2.9" fill="#FFFFFF"/>
<circle cx="164.6" cy="498.4" r="2.9" fill="#FFFFFF"/>
<circle cx="170.4" cy="492.0" r="2.9" fill="#FFFFFF"/>
<circle cx="177.4" cy="492.0" r="2.9" fill="#FFFFFF"/>
<circle cx="191.5" cy="500.3" r="2.9" fill="#FFFFFF"/>
<circle cx="198.4" cy="492.0" r="2.9" fill="#FFFFFF"/>
<circle cx="204.8" cy="492.0" r="2.9" fill="#FFFFFF"/>
<circle cx="211.6" cy="492.0" r="2.9" fill="#FFFFFF"/>
<circle cx="184.3" cy="509.4" r="2.9" fill="#FFFFFF"/>
<circle cx="218.5" cy="509.4" r="2.9" fill="#FFFFFF"/>
<circle cx="225.5" cy="509.4" r="2.9" fill="#FFFFFF"/>
<circle cx="232.3" cy="509.4" r="2.9" fill="#FFFFFF"/>
<circle cx="239.2" cy="509.4" r="2.9" fill="#FFFFFF"/>
<circle cx="137.1" cy="505.7" r="2.9" fill="#D0D0D0"/>
<circle cx="170.4" cy="489.3" r="2.9" fill="#D0D0D0"/>
<circle cx="191.5" cy="492.0" r="2.9" fill="#D0D0D0"/>
<circle cx="211.6" cy="489.3" r="2.9" fill="#D0D0D0"/>
<circle cx="218.5" cy="500.3" r="2.9" fill="#D0D0D0"/>
<circle cx="225.5" cy="500.3" r="2.9" fill="#D0D0D0"/>
<circle cx="239.2" cy="500.3" r="2.9" fill="#D0D0D0"/>
<circle cx="245.1" cy="500.3" r="2.9" fill="#D0D0D0"/>
<circle cx="143.5" cy="500.3" r="2.9" fill="#989898"/>
<circle cx="177.4" cy="489.3" r="2.9" fill="#989898"/>
<circle cx="191.5" cy="489.3" r="2.9" fill="#989898"/>
<circle cx="198.4" cy="485.6" r="2.9" fill="#989898"/>
<circle cx="211.6" cy="485.6" r="2.9" fill="#989898"/>
<circle cx="218.5" cy="492.0" r="2.9" fill="#989898"/>
<circle cx="232.3" cy="500.3" r="2.9" fill="#989898"/>
<circle cx="239.2" cy="493.8" r="2.9" fill="#989898"/>
<circle cx="245.1" cy="481.4" r="2.9" fill="#989898"/>
<circle cx="143.5" cy="481.4" r="2.9" fill="#555555"/>
<circle cx="150.3" cy="492.0" r="2.9" fill="#555555"/>
<circle cx="157.3" cy="492.0" r="2.9" fill="#555555"/>
<circle cx="164.6" cy="492.0" r="2.9" fill="#555555"/>
<circle cx="184.3" cy="501.2" r="2.9" fill="#555555"/>
<circle cx="198.4" cy="467.3" r="2.9" fill="#555555"/>
<circle cx="211.6" cy="481.4" r="2.9" fill="#555555"/>
<circle cx="218.5" cy="489.3" r="2.9" fill="#555555"/>
<circle cx="225.5" cy="492.0" r="2.9" fill="#555555"/>
<circle cx="232.3" cy="493.8" r="2.9" fill="#555555"/>
<circle cx="191.5" cy="456.4" r="2.9" fill="#000000"/>
<circle cx="198.4" cy="464.0" r="2.9" fill="#000000"/>
<circle cx="204.8" cy="467.9" r="2.9" fill="#000000"/>
<circle cx="211.6" cy="470.4" r="2.9" fill="#000000"/>
<circle cx="218.5" cy="481.4" r="2.9" fill="#000000"/>
<circle cx="225.5" cy="485.6" r="2.9" fill="#000000"/>
<circle cx="232.3" cy="489.3" r="2.9" fill="#000000"/>
<circle cx="239.2" cy="481.4" r="2.9" fill="#000000"/>
<circle cx="245.1" cy="476.5" r="2.9" fill="#000000"/>
<circle cx="184.3" cy="489.3" r="2.9" fill="#000000"/>
<polyline points="135.3,471.0 142.6,471.0 149.9,466.4 157.3,464.0 164.6,463.7 177.4,463.7 184.7,467.3 191.1,470.1 198.4,471.0 205.7,471.0 212.1,472.8 219.5,474.6 226.4,474.6 233.2,472.8 239.6,471.0 245.6,470.4" fill="none" stroke="#FF9400" stroke-width="2.4" stroke-linejoin="round"/>
</g>
<g clip-path="url(#lN)">
<polygon points="164.6,601.9 166.4,588.2 171.0,571.7 177.4,566.2 184.7,563.1 191.1,549.8 198.4,544.3 205.7,540.6 212.1,526.9 219.5,523.8 233.2,523.8 239.6,535.1 246.0,544.3 246.0,601.9" fill="#FFFFFF" />
<polygon points="191.1,601.9 192.0,575.4 193.8,557.1 197.5,532.4 198.4,531.1 204.8,533.3 207.0,540.6 209.8,535.5 214.3,530.4 219.5,527.4 226.8,526.0 233.7,524.1 246.0,523.4 246.0,601.9" fill="#9C9C9C" />
<polygon points="135.3,576.3 143.5,563.5 149.9,577.2 157.3,583.6 164.6,586.3 167.3,588.2 177.4,592.7 181.0,584.5 184.7,568.0 192.0,569.9 193.8,577.2 198.4,586.3 204.8,595.5 212.1,586.3 215.8,560.7 219.5,542.4 226.8,535.1 233.2,540.6 239.6,551.6 246.0,568.0 246.0,601.9 135.3,601.9" fill="#555555" />
<polygon points="135.3,595.5 142.6,593.7 149.9,590.9 157.3,595.5 163.7,600.6 135.3,601.9" fill="#333333" />
<polyline points="135.3,588.2 151.8,600.6" fill="none" stroke="#B0B0B0" stroke-width="0.8" />
<polyline points="184.7,600.6 192.0,575.4" fill="none" stroke="#B0B0B0" stroke-width="0.8" />
<polyline points="164.6,600.6 166.8,590.9" fill="none" stroke="#FFFFFF" stroke-width="0.9" />
<polyline points="233.2,523.8 239.6,535.1 246.0,544.3" fill="none" stroke="#FFFFFF" stroke-width="1.2" />
<rect x="216.7" y="590" width="2.8" height="12" fill="#FFB400"/>
<rect x="224.0" y="590" width="2.8" height="12" fill="#FFB400"/>
<rect x="231.0" y="590" width="2.8" height="12" fill="#FFB400"/>
<rect x="238.3" y="590" width="2.8" height="12" fill="#FFB400"/>
</g>
<line x1="142.5" y1="58.5" x2="142.5" y2="134.5" stroke="#000" stroke-width="1" stroke-dasharray="2 2"/>
<line x1="163.5" y1="58.5" x2="163.5" y2="134.5" stroke="#000" stroke-width="1" stroke-dasharray="2 2"/>
<line x1="184.5" y1="58.5" x2="184.5" y2="134.5" stroke="#000" stroke-width="1" stroke-dasharray="2 2"/>
<line x1="205.5" y1="58.5" x2="205.5" y2="134.5" stroke="#000" stroke-width="1" stroke-dasharray="2 2"/>
<line x1="226.5" y1="58.5" x2="226.5" y2="134.5" stroke="#000" stroke-width="1" stroke-dasharray="2 2"/>
<line x1="136.5" y1="59.5" x2="245.5" y2="59.5" stroke="#000" stroke-width="1" stroke-dasharray="2 2"/>
<line x1="136.5" y1="77.5" x2="245.5" y2="77.5" stroke="#000" stroke-width="1" stroke-dasharray="2 2"/>
<line x1="136.5" y1="94.5" x2="245.5" y2="94.5" stroke="#000" stroke-width="1" stroke-dasharray="2 2"/>
<line x1="136.5" y1="111.5" x2="245.5" y2="111.5" stroke="#000" stroke-width="1" stroke-dasharray="2 2"/>
<line x1="136.5" y1="129.5" x2="245.5" y2="129.5" stroke="#000" stroke-width="1" stroke-dasharray="2 2"/>
<rect x="135.5" y="57.5" width="110.0" height="77.0" fill="none" stroke="#000" stroke-width="1"/>
<line x1="143.5" y1="144.5" x2="143.5" y2="220.5" stroke="#000" stroke-width="1" stroke-dasharray="2 2"/>
<line x1="164.5" y1="144.5" x2="164.5" y2="220.5" stroke="#000" stroke-width="1" stroke-dasharray="2 2"/>
<line x1="184.5" y1="144.5" x2="184.5" y2="220.5" stroke="#000" stroke-width="1" stroke-dasharray="2 2"/>
<line x1="204.5" y1="144.5" x2="204.5" y2="220.5" stroke="#000" stroke-width="1" stroke-dasharray="2 2"/>
<line x1="225.5" y1="144.5" x2="225.5" y2="220.5" stroke="#000" stroke-width="1" stroke-dasharray="2 2"/>
<line x1="136.5" y1="149.5" x2="245.5" y2="149.5" stroke="#000" stroke-width="1" stroke-dasharray="2 2"/>
<line x1="136.5" y1="168.5" x2="245.5" y2="168.5" stroke="#000" stroke-width="1" stroke-dasharray="2 2"/>
<line x1="136.5" y1="185.5" x2="245.5" y2="185.5" stroke="#000" stroke-width="1" stroke-dasharray="2 2"/>
<line x1="136.5" y1="203.5" x2="245.5" y2="203.5" stroke="#000" stroke-width="1" stroke-dasharray="2 2"/>
<rect x="135.5" y="143.5" width="110.0" height="77.0" fill="none" stroke="#000" stroke-width="1"/>
<line x1="143.5" y1="230.5" x2="143.5" y2="306.5" stroke="#000" stroke-width="1" stroke-dasharray="2 2"/>
<line x1="164.5" y1="230.5" x2="164.5" y2="306.5" stroke="#000" stroke-width="1" stroke-dasharray="2 2"/>
<line x1="184.5" y1="230.5" x2="184.5" y2="306.5" stroke="#000" stroke-width="1" stroke-dasharray="2 2"/>
<line x1="204.5" y1="230.5" x2="204.5" y2="306.5" stroke="#000" stroke-width="1" stroke-dasharray="2 2"/>
<line x1="225.5" y1="230.5" x2="225.5" y2="306.5" stroke="#000" stroke-width="1" stroke-dasharray="2 2"/>
<line x1="136.5" y1="231.5" x2="245.5" y2="231.5" stroke="#000" stroke-width="1" stroke-dasharray="2 2"/>
<line x1="136.5" y1="254.5" x2="245.5" y2="254.5" stroke="#000" stroke-width="1" stroke-dasharray="2 2"/>
<line x1="136.5" y1="278.5" x2="245.5" y2="278.5" stroke="#000" stroke-width="1" stroke-dasharray="2 2"/>
<line x1="136.5" y1="301.5" x2="245.5" y2="301.5" stroke="#000" stroke-width="1" stroke-dasharray="2 2"/>
<rect x="135.5" y="229.5" width="110.0" height="77.0" fill="none" stroke="#000" stroke-width="1"/>
<line x1="143.5" y1="316.5" x2="143.5" y2="392.5" stroke="#000" stroke-width="1" stroke-dasharray="2 2"/>
<line x1="164.5" y1="316.5" x2="164.5" y2="392.5" stroke="#000" stroke-width="1" stroke-dasharray="2 2"/>
<line x1="184.5" y1="316.5" x2="184.5" y2="392.5" stroke="#000" stroke-width="1" stroke-dasharray="2 2"/>
<line x1="204.5" y1="316.5" x2="204.5" y2="392.5" stroke="#000" stroke-width="1" stroke-dasharray="2 2"/>
<line x1="225.5" y1="316.5" x2="225.5" y2="392.5" stroke="#000" stroke-width="1" stroke-dasharray="2 2"/>
<line x1="136.5" y1="334.5" x2="245.5" y2="334.5" stroke="#000" stroke-width="1" stroke-dasharray="2 2"/>
<line x1="136.5" y1="353.5" x2="245.5" y2="353.5" stroke="#000" stroke-width="1" stroke-dasharray="2 2"/>
<line x1="136.5" y1="373.5" x2="245.5" y2="373.5" stroke="#000" stroke-width="1" stroke-dasharray="2 2"/>
<rect x="135.5" y="315.5" width="110.0" height="77.0" fill="none" stroke="#000" stroke-width="1"/>
<line x1="143.5" y1="399.5" x2="143.5" y2="430.5" stroke="#000" stroke-width="1" stroke-dasharray="2 2"/>
<line x1="164.5" y1="399.5" x2="164.5" y2="430.5" stroke="#000" stroke-width="1" stroke-dasharray="2 2"/>
<line x1="184.5" y1="399.5" x2="184.5" y2="430.5" stroke="#000" stroke-width="1" stroke-dasharray="2 2"/>
<line x1="204.5" y1="399.5" x2="204.5" y2="430.5" stroke="#000" stroke-width="1" stroke-dasharray="2 2"/>
<line x1="225.5" y1="399.5" x2="225.5" y2="430.5" stroke="#000" stroke-width="1" stroke-dasharray="2 2"/>
<rect x="135.5" y="398.5" width="110.0" height="32.0" fill="none" stroke="#000" stroke-width="1"/>
<line x1="143.5" y1="437.5" x2="143.5" y2="514.5" stroke="#000" stroke-width="1" stroke-dasharray="2 2"/>
<line x1="164.5" y1="437.5" x2="164.5" y2="514.5" stroke="#000" stroke-width="1" stroke-dasharray="2 2"/>
<line x1="184.5" y1="437.5" x2="184.5" y2="514.5" stroke="#000" stroke-width="1" stroke-dasharray="2 2"/>
<line x1="204.5" y1="437.5" x2="204.5" y2="514.5" stroke="#000" stroke-width="1" stroke-dasharray="2 2"/>
<line x1="225.5" y1="437.5" x2="225.5" y2="514.5" stroke="#000" stroke-width="1" stroke-dasharray="2 2"/>
<line x1="136.5" y1="456.5" x2="245.5" y2="456.5" stroke="#000" stroke-width="1" stroke-dasharray="2 2"/>
<line x1="136.5" y1="475.5" x2="245.5" y2="475.5" stroke="#000" stroke-width="1" stroke-dasharray="2 2"/>
<line x1="136.5" y1="494.5" x2="245.5" y2="494.5" stroke="#000" stroke-width="1" stroke-dasharray="2 2"/>
<rect x="135.5" y="436.5" width="110.0" height="78.0" fill="none" stroke="#000" stroke-width="1"/>
<line x1="143.5" y1="524.5" x2="143.5" y2="601.5" stroke="#000" stroke-width="1" stroke-dasharray="2 2"/>
<line x1="164.5" y1="524.5" x2="164.5" y2="601.5" stroke="#000" stroke-width="1" stroke-dasharray="2 2"/>
<line x1="184.5" y1="524.5" x2="184.5" y2="601.5" stroke="#000" stroke-width="1" stroke-dasharray="2 2"/>
<line x1="204.5" y1="524.5" x2="204.5" y2="601.5" stroke="#000" stroke-width="1" stroke-dasharray="2 2"/>
<line x1="225.5" y1="524.5" x2="225.5" y2="601.5" stroke="#000" stroke-width="1" stroke-dasharray="2 2"/>
<line x1="136.5" y1="543.5" x2="245.5" y2="543.5" stroke="#000" stroke-width="1" stroke-dasharray="2 2"/>
<line x1="136.5" y1="562.5" x2="245.5" y2="562.5" stroke="#000" stroke-width="1" stroke-dasharray="2 2"/>
<line x1="136.5" y1="581.5" x2="245.5" y2="581.5" stroke="#000" stroke-width="1" stroke-dasharray="2 2"/>
<rect x="135.5" y="523.5" width="110.0" height="78.0" fill="none" stroke="#000" stroke-width="1"/>
<text x="6.0" y="18.4" font-size="11.0" fill="#000" text-anchor="start" textLength="58.9" lengthAdjust="spacing" >Czas lokalny</text>
<text x="6.0" y="30.4" font-size="11.0" fill="#000" text-anchor="start" textLength="54.6" lengthAdjust="spacing" >(CET/CEST)</text>
<text x="6.0" y="46.6" font-size="11.0" fill="#A52020" text-anchor="start" textLength="93.4" lengthAdjust="spacing" >Temperatura gruntu</text>
<text x="27.3" y="56.5" font-size="11.0" fill="#A52020" text-anchor="start" textLength="38.9" lengthAdjust="spacing" >max/min</text>
<text x="6.0" y="67.9" font-size="11.0" fill="#000" text-anchor="start" textLength="61.4" lengthAdjust="spacing" >Temperatura:</text>
<text x="12.8" y="80.4" font-size="11.0" fill="#FF0000" text-anchor="start" textLength="76.8" lengthAdjust="spacing" stroke="#FF0000" stroke-width="0.3">punkt środkowy</text>
<text x="27.3" y="90.5" font-size="11.0" fill="#FFD2C8" text-anchor="start" textLength="38.9" lengthAdjust="spacing" >max/min</text>
<text x="9.9" y="102.4" font-size="11.0" fill="#0000FF" text-anchor="start" textLength="57.5" lengthAdjust="spacing" stroke="#0000FF" stroke-width="0.3">odczuwana</text>
<text x="27.3" y="112.3" font-size="11.0" fill="#A8DCFF" text-anchor="start" textLength="38.9" lengthAdjust="spacing" >max/min</text>
<text x="6.0" y="124.1" font-size="11.0" fill="#6A5ACD" text-anchor="start" textLength="87.0" lengthAdjust="spacing" >Temp. punktu rosy</text>
<text x="6.0" y="141.0" font-size="11.0" fill="#FF0000" text-anchor="start" textLength="94.4" lengthAdjust="spacing" >Opad powyżej skali</text>
<text x="6.0" y="154.8" font-size="11.0" fill="#E84A1A" text-anchor="start" textLength="97.3" lengthAdjust="spacing" >Wilgotność względna</text>
<text x="6.0" y="168.8" font-size="11.0" fill="#000" text-anchor="start" textLength="84.5" lengthAdjust="spacing" >Wystąpienie burzy</text>
<text x="6.0" y="183.0" font-size="11.0" fill="#0AA00A" text-anchor="start" textLength="39.2" lengthAdjust="spacing" >Deszcz:</text>
<text x="49.5" y="183.0" font-size="11.0" fill="#0AA00A" text-anchor="start" textLength="19.6" lengthAdjust="spacing" >max</text>
<text x="49.5" y="194.1" font-size="11.0" fill="#0AA00A" text-anchor="start" textLength="29.0" lengthAdjust="spacing" >średni</text>
<text x="6.0" y="205.0" font-size="11.0" fill="#1428C8" text-anchor="start" textLength="29.9" lengthAdjust="spacing" >Śnieg:</text>
<text x="49.5" y="205.0" font-size="11.0" fill="#1428C8" text-anchor="start" textLength="19.6" lengthAdjust="spacing" >max</text>
<text x="49.5" y="215.9" font-size="11.0" fill="#1428C8" text-anchor="start" textLength="29.0" lengthAdjust="spacing" >średni</text>
<text x="6.0" y="228.2" font-size="11.0" fill="#FF0000" text-anchor="start" textLength="88.2" lengthAdjust="spacing" >Wystąpienie opadu</text>
<text x="6.0" y="241.0" font-size="11.0" fill="#FF0000" text-anchor="start" textLength="71.2" lengthAdjust="spacing" >konwekcyjnego</text>
<text x="5.0" y="267.1" font-size="11.0" fill="#000" text-anchor="start" textLength="42.0" lengthAdjust="spacing" >Ciśnienie</text>
<text x="5.0" y="279.9" font-size="11.0" fill="#000" text-anchor="start" textLength="65.9" lengthAdjust="spacing" >zredukowane</text>
<text x="5.0" y="293.2" font-size="11.0" fill="#000" text-anchor="start" textLength="87.2" lengthAdjust="spacing" >do poziomu morza</text>
<text x="5.0" y="322.1" font-size="11.0" fill="#000" text-anchor="start" textLength="65.9" lengthAdjust="spacing" >Wiatr na 10m:</text>
<text x="9.9" y="337.9" font-size="11.0" fill="#FF0000" text-anchor="start" textLength="100.2" lengthAdjust="spacing" >poryw powyżej skali</text>
<text x="9.9" y="351.9" font-size="11.0" fill="#FF0000" text-anchor="start" textLength="94.2" lengthAdjust="spacing" >max porywy wiatru</text>
<text x="9.9" y="371.7" font-size="11.0" fill="#000094" text-anchor="start" textLength="78.5" lengthAdjust="spacing" >prędkość wiatru</text>
<text x="9.9" y="384.9" font-size="11.0" fill="#000094" text-anchor="start" textLength="88.3" lengthAdjust="spacing" >w środku obszaru</text>
<text x="9.9" y="412.7" font-size="11.0" fill="#000094" text-anchor="start" textLength="73.8" lengthAdjust="spacing" >kierunek wiatru</text>
<text x="6.0" y="433.2" font-size="11.0" fill="#A52020" text-anchor="start" textLength="90.5" lengthAdjust="spacing" >Wierzchołek chmur</text>
<text x="6.0" y="448.1" font-size="11.0" fill="#000" text-anchor="start" textLength="85.3" lengthAdjust="spacing" >Podstawa chmur*</text>
<text x="6.0" y="458.8" font-size="11.0" fill="#000" text-anchor="start" textLength="47.3" lengthAdjust="spacing" >o pokryciu</text>
<text x="10.6" y="472.0" font-size="11.0" fill="#000" text-anchor="start" textLength="43.7" lengthAdjust="spacing" >&gt; 7.9 okt.</text>
<text x="10.6" y="482.7" font-size="11.0" fill="#505050" text-anchor="start" textLength="43.7" lengthAdjust="spacing" >&gt; 6.5 okt.</text>
<text x="10.6" y="493.8" font-size="11.0" fill="#9A9A9A" text-anchor="start" textLength="43.7" lengthAdjust="spacing" >&gt; 4.5 okt.</text>
<text x="10.6" y="504.1" font-size="11.0" fill="#D4D4D4" text-anchor="start" textLength="43.7" lengthAdjust="spacing" >&gt; 2.5 okt.</text>
<rect x="11" y="505.3" width="44" height="11.4" fill="#7EC8F8"/>
<text x="10.6" y="515.0" font-size="11.0" fill="#FFFFFF" text-anchor="start" textLength="43.7" lengthAdjust="spacing" >&gt; 0.1 okt.</text>
<text x="6.0" y="529.7" font-size="11.0" fill="#FF8000" text-anchor="start" textLength="56.8" lengthAdjust="spacing" >Widzialność</text>
<text x="6.0" y="547.0" font-size="11.0" fill="#000" text-anchor="start" textLength="38.4" lengthAdjust="spacing" >Chmury:</text>
<rect x="10.2" y="551.4" width="40.7" height="11.3" fill="#7EC8F8"/>
<text x="11.0" y="560.3" font-size="11.0" fill="#FFFFFF" text-anchor="start" textLength="39.5" lengthAdjust="spacing" >wysokie</text>
<text x="9.9" y="572.6" font-size="11.0" fill="#9A9A9A" text-anchor="start" textLength="35.3" lengthAdjust="spacing" >średnie</text>
<text x="9.9" y="584.9" font-size="11.0" fill="#404040" text-anchor="start" textLength="26.3" lengthAdjust="spacing" >niskie</text>
<text x="9.9" y="596.8" font-size="11.0" fill="#202020" text-anchor="start" textLength="61.0" lengthAdjust="spacing" >bardzo niskie</text>
<text x="6.0" y="609.1" font-size="11.0" fill="#FFB400" text-anchor="start" textLength="20.1" lengthAdjust="spacing" >Mgła</text>
<text x="5.8" y="626.3" font-size="11.0" fill="#000" text-anchor="start" textLength="131.4" lengthAdjust="spacing" >Czas uniwersalny (UTC)</text>
<text x="5.1" y="650.8" font-size="9.5" fill="#000" text-anchor="start" textLength="103.5" lengthAdjust="spacing" font-weight="bold">* powyżej poziomu morza</text>
<text x="164.1" y="51.5" font-size="11.3" fill="#000" text-anchor="middle" >20</text>
<text x="204.1" y="51.5" font-size="11.3" fill="#000" text-anchor="middle" >02</text>
<text x="244.3" y="51.5" font-size="11.3" fill="#000" text-anchor="middle" >08</text>
<text x="164.0" y="614.5" font-size="11.3" fill="#000" text-anchor="middle" >18</text>
<text x="203.7" y="614.5" font-size="11.3" fill="#000" text-anchor="middle" >00</text>
<text x="245.3" y="614.5" font-size="11.3" fill="#000" text-anchor="middle" >06</text>
<text x="128.5" y="63.4" font-size="11.3" fill="#000" text-anchor="end" >30</text>
<text x="128.5" y="80.8" font-size="11.3" fill="#000" text-anchor="end" >20</text>
<text x="128.5" y="97.5" font-size="11.3" fill="#000" text-anchor="end" >10</text>
<text x="128.5" y="115.2" font-size="11.3" fill="#000" text-anchor="end" >0</text>
<text x="128.5" y="133.5" font-size="11.3" fill="#000" text-anchor="end" >-10</text>
<text x="128.5" y="154.3" font-size="11.3" fill="#000" text-anchor="end" >2.0</text>
<text x="128.5" y="171.4" font-size="11.3" fill="#000" text-anchor="end" >1.5</text>
<text x="128.5" y="189.0" font-size="11.3" fill="#000" text-anchor="end" >1.0</text>
<text x="128.5" y="206.0" font-size="11.3" fill="#000" text-anchor="end" >0.5</text>
<text x="128.5" y="224.1" font-size="11.3" fill="#000" text-anchor="end" >0.0</text>
<text x="128.5" y="235.2" font-size="11.3" fill="#000" text-anchor="end" >1018</text>
<text x="128.5" y="257.9" font-size="11.3" fill="#000" text-anchor="end" >1016</text>
<text x="128.5" y="281.8" font-size="11.3" fill="#000" text-anchor="end" >1014</text>
<text x="128.5" y="304.8" font-size="11.3" fill="#000" text-anchor="end" >1012</text>
<text x="128.5" y="319.2" font-size="11.3" fill="#000" text-anchor="end" >20</text>
<text x="128.5" y="338.0" font-size="11.3" fill="#000" text-anchor="end" >15</text>
<text x="128.5" y="357.8" font-size="11.3" fill="#000" text-anchor="end" >10</text>
<text x="128.5" y="376.9" font-size="11.3" fill="#000" text-anchor="end" >5</text>
<text x="128.5" y="395.7" font-size="11.3" fill="#000" text-anchor="end" >0</text>
<text x="128.5" y="440.1" font-size="11.3" fill="#000" text-anchor="end" >15.0</text>
<text x="128.5" y="459.7" font-size="11.3" fill="#000" text-anchor="end" >7.0</text>
<text x="128.5" y="478.8" font-size="11.3" fill="#000" text-anchor="end" >2.0</text>
<text x="128.5" y="498.5" font-size="11.3" fill="#000" text-anchor="end" >0.5</text>
<text x="128.5" y="517.2" font-size="11.3" fill="#000" text-anchor="end" >0.0</text>
<text x="128.5" y="526.2" font-size="11.3" fill="#000" text-anchor="end" >8</text>
<text x="128.5" y="546.5" font-size="11.3" fill="#000" text-anchor="end" >6</text>
<text x="128.5" y="565.8" font-size="11.3" fill="#000" text-anchor="end" >4</text>
<text x="128.5" y="585.9" font-size="11.3" fill="#000" text-anchor="end" >2</text>
<text x="128.5" y="604.6" font-size="11.3" fill="#000" text-anchor="end" >0</text>
<text x="254.0" y="63.0" font-size="11.3" fill="#000" text-anchor="start" >30</text>
<text x="254.0" y="80.7" font-size="11.3" fill="#000" text-anchor="start" >20</text>
<text x="254.0" y="98.1" font-size="11.3" fill="#000" text-anchor="start" >10</text>
<text x="257.5" y="114.9" font-size="11.3" fill="#000" text-anchor="start" >0</text>
<text x="250.5" y="132.9" font-size="11.3" fill="#000" text-anchor="start" >-10</text>
<text x="254.0" y="153.6" font-size="11.3" fill="#E84A1A" text-anchor="start" >96</text>
<text x="254.0" y="172.1" font-size="11.3" fill="#E84A1A" text-anchor="start" >84</text>
<text x="254.0" y="189.3" font-size="11.3" fill="#E84A1A" text-anchor="start" >73</text>
<text x="254.0" y="206.6" font-size="11.3" fill="#E84A1A" text-anchor="start" >61</text>
<text x="254.0" y="223.6" font-size="11.3" fill="#E84A1A" text-anchor="start" >50</text>
<text x="252.0" y="235.1" font-size="11.3" fill="#000" text-anchor="start" >1018</text>
<text x="252.0" y="258.2" font-size="11.3" fill="#000" text-anchor="start" >1016</text>
<text x="252.0" y="281.9" font-size="11.3" fill="#000" text-anchor="start" >1014</text>
<text x="252.0" y="305.5" font-size="11.3" fill="#000" text-anchor="start" >1012</text>
<text x="254.0" y="319.1" font-size="11.3" fill="#000" text-anchor="start" >72</text>
<text x="254.0" y="338.2" font-size="11.3" fill="#000" text-anchor="start" >54</text>
<text x="254.0" y="357.3" font-size="11.3" fill="#000" text-anchor="start" >36</text>
<text x="254.0" y="376.6" font-size="11.3" fill="#000" text-anchor="start" >18</text>
<text x="257.5" y="396.2" font-size="11.3" fill="#000" text-anchor="start" >0</text>
<text x="251.5" y="439.8" font-size="11.3" fill="#FF8000" text-anchor="start" >100</text>
<text x="251.5" y="460.0" font-size="11.3" fill="#FF8000" text-anchor="start" >20</text>
<text x="251.5" y="478.8" font-size="11.3" fill="#FF8000" text-anchor="start" >5</text>
<text x="251.5" y="498.4" font-size="11.3" fill="#FF8000" text-anchor="start" >1</text>
<text x="251.5" y="517.6" font-size="11.3" fill="#FF8000" text-anchor="start" >0</text>
<text x="251.0" y="525.6" font-size="11.3" fill="#FF8000" text-anchor="start" >1</text>
<text x="251.0" y="547.0" font-size="11.3" fill="#FF8000" text-anchor="start" >0.75</text>
<text x="251.0" y="565.6" font-size="11.3" fill="#FF8000" text-anchor="start" >0.5</text>
<text x="251.0" y="585.4" font-size="11.3" fill="#FF8000" text-anchor="start" >0.25</text>
<text x="251.0" y="604.9" font-size="11.3" fill="#FF8000" text-anchor="start" >0</text>
<polyline points="68.3,16.5 133.2,16.5 157.0,45.0" fill="none" stroke="#000" stroke-width="1" />
<polyline points="102.4,44.5 117.8,44.5 149.6,83.5" fill="none" stroke="#A52020" stroke-width="1" />
<polyline points="92.2,76.5 114.4,76.5" fill="none" stroke="#FF0000" stroke-width="1" />
<polyline points="129.8,76.5 133.5,77.0 162.7,105.0" fill="none" stroke="#FF0000" stroke-width="1" />
<polyline points="70.3,99.5 131.5,99.5 136.6,102.4" fill="none" stroke="#0000FF" stroke-width="1" />
<polyline points="95.6,120.5 131.5,120.5 137.0,115.0 140.0,112.0" fill="none" stroke="#6A5ACD" stroke-width="1" />
<polyline points="103.3,137.5 140.8,137.5 146.3,146.9" fill="none" stroke="#FF0000" stroke-width="1" />
<polyline points="105.9,151.5 111.8,151.5" fill="none" stroke="#E84A1A" stroke-width="1" />
<polyline points="129.8,151.5 146.3,160.6" fill="none" stroke="#E84A1A" stroke-width="1" />
<polyline points="94.2,165.5 112.7,165.5" fill="none" stroke="#000" stroke-width="1" />
<polyline points="128.0,165.5 131.7,167.0 136.8,171.0" fill="none" stroke="#000" stroke-width="1" />
<polyline points="70.9,179.5 139.0,179.5" fill="none" stroke="#0AA00A" stroke-width="1" />
<polyline points="79.9,190.5 136.0,190.5" fill="none" stroke="#0AA00A" stroke-width="1" />
<polyline points="70.0,202.5 111.8,202.5" fill="none" stroke="#1428C8" stroke-width="1" />
<polyline points="128.0,202.5 130.7,201.8 160.6,172.5" fill="none" stroke="#1428C8" stroke-width="1" />
<polyline points="81.6,213.5 131.7,213.5 157.3,184.4" fill="none" stroke="#1428C8" stroke-width="1" />
<polyline points="97.3,225.5 143.5,225.5 147.2,219.5" fill="none" stroke="#FF0000" stroke-width="1" />
<polyline points="51.2,264.5 131.5,264.5 136.6,262.3" fill="none" stroke="#000" stroke-width="1" />
<polyline points="111.8,334.5 117.8,334.5" fill="none" stroke="#FF0000" stroke-width="1" />
<polyline points="128.0,334.5 132.0,333.6 137.8,317.8" fill="none" stroke="#FF0000" stroke-width="1" />
<polyline points="107.2,348.5 131.0,348.5 133.9,346.4 143.7,340.5" fill="none" stroke="#FF0000" stroke-width="1" />
<polyline points="92.2,367.5 136.0,367.5" fill="none" stroke="#000094" stroke-width="1" />
<polyline points="86.2,410.5 140.8,410.5" fill="none" stroke="#000094" stroke-width="1" />
<polyline points="99.9,430.5 133.2,430.5 184.7,447.2" fill="none" stroke="#A52020" stroke-width="1" />
<polyline points="57.2,468.5 128.0,468.5 133.5,467.0 190.2,456.9" fill="none" stroke="#000" stroke-width="1" />
<polyline points="57.2,480.5 142.6,480.5" fill="none" stroke="#505050" stroke-width="1" />
<polyline points="57.2,490.5 128.0,490.5 131.7,491.1 142.6,500.3" fill="none" stroke="#9A9A9A" stroke-width="1" />
<polyline points="57.2,500.5 128.0,500.5 131.7,501.2 136.2,504.8" fill="none" stroke="#D4D4D4" stroke-width="1" />
<polyline points="55.0,510.9 137.0,510.9" fill="none" stroke="#7EC8F8" stroke-width="3" />
<polyline points="55.0,510.9 137.0,510.9" fill="none" stroke="#FFFFFF" stroke-width="1" />
<polyline points="67.4,527.5 129.8,527.5 133.5,528.0 173.7,464.6" fill="none" stroke="#FF8000" stroke-width="1" />
<polyline points="51.0,556.5 188.4,556.5" fill="none" stroke="#7EC8F8" stroke-width="3" />
<polyline points="51.0,556.5 188.4,556.5" fill="none" stroke="#FFFFFF" stroke-width="1" />
<polyline points="49.0,570.5 192.0,570.5" fill="none" stroke="#8A8A8A" stroke-width="1" />
<polyline points="40.0,582.5 122.0,582.5" fill="none" stroke="#404040" stroke-width="1" />
<polyline points="130.0,582.5 137.0,582.5" fill="none" stroke="#404040" stroke-width="1" />
<polyline points="74.7,594.5 142.6,594.5" fill="none" stroke="#202020" stroke-width="1" />
<polyline points="30.0,605.5 217.6,605.5 218.5,601.0" fill="none" stroke="#FFB400" stroke-width="1" />
<polyline points="139.3,623.5 148.5,623.5 157.7,610.5" fill="none" stroke="#000" stroke-width="1" />
<line x1="356.5" y1="58.5" x2="356.5" y2="135.5" stroke="#000" stroke-width="1" stroke-dasharray="2 2"/>
<line x1="377.5" y1="58.5" x2="377.5" y2="135.5" stroke="#000" stroke-width="1" stroke-dasharray="2 2"/>
<line x1="398.5" y1="58.5" x2="398.5" y2="135.5" stroke="#000" stroke-width="1" stroke-dasharray="2 2"/>
<line x1="419.5" y1="58.5" x2="419.5" y2="135.5" stroke="#000" stroke-width="1" stroke-dasharray="2 2"/>
<line x1="441.5" y1="58.5" x2="441.5" y2="135.5" stroke="#000" stroke-width="1" stroke-dasharray="2 2"/>
<line x1="462.5" y1="58.5" x2="462.5" y2="135.5" stroke="#000" stroke-width="1" stroke-dasharray="2 2"/>
<line x1="483.5" y1="58.5" x2="483.5" y2="135.5" stroke="#000" stroke-width="1" stroke-dasharray="2 2"/>
<line x1="504.5" y1="58.5" x2="504.5" y2="135.5" stroke="#000" stroke-width="1" stroke-dasharray="2 2"/>
<line x1="525.5" y1="58.5" x2="525.5" y2="135.5" stroke="#000" stroke-width="1" stroke-dasharray="2 2"/>
<line x1="546.5" y1="58.5" x2="546.5" y2="135.5" stroke="#000" stroke-width="1" stroke-dasharray="2 2"/>
<line x1="567.5" y1="58.5" x2="567.5" y2="135.5" stroke="#000" stroke-width="1" stroke-dasharray="2 2"/>
<line x1="588.5" y1="58.5" x2="588.5" y2="135.5" stroke="#000" stroke-width="1" stroke-dasharray="2 2"/>
<line x1="609.5" y1="58.5" x2="609.5" y2="135.5" stroke="#000" stroke-width="1" stroke-dasharray="2 2"/>
<line x1="631.5" y1="58.5" x2="631.5" y2="135.5" stroke="#000" stroke-width="1" stroke-dasharray="2 2"/>
<line x1="652.5" y1="58.5" x2="652.5" y2="135.5" stroke="#000" stroke-width="1" stroke-dasharray="2 2"/>
<line x1="673.5" y1="58.5" x2="673.5" y2="135.5" stroke="#000" stroke-width="1" stroke-dasharray="2 2"/>
<line x1="694.5" y1="58.5" x2="694.5" y2="135.5" stroke="#000" stroke-width="1" stroke-dasharray="2 2"/>
<line x1="715.5" y1="58.5" x2="715.5" y2="135.5" stroke="#000" stroke-width="1" stroke-dasharray="2 2"/>
<line x1="736.5" y1="58.5" x2="736.5" y2="135.5" stroke="#000" stroke-width="1" stroke-dasharray="2 2"/>
<line x1="343.5" y1="67.5" x2="757.5" y2="67.5" stroke="#000" stroke-width="1" stroke-dasharray="2 2"/>
<line x1="343.5" y1="92.5" x2="757.5" y2="92.5" stroke="#000" stroke-width="1" stroke-dasharray="2 2"/>
<line x1="343.5" y1="118.5" x2="757.5" y2="118.5" stroke="#000" stroke-width="1" stroke-dasharray="2 2"/>
<rect x="342.5" y="57.5" width="415.0" height="78.0" fill="none" stroke="#000" stroke-width="1"/>
<line x1="342.0" y1="56.5" x2="758.0" y2="56.5" stroke="#000" stroke-opacity="0.45" stroke-width="1"/>
<line x1="356.5" y1="144.5" x2="356.5" y2="221.5" stroke="#000" stroke-width="1" stroke-dasharray="2 2"/>
<line x1="377.5" y1="144.5" x2="377.5" y2="221.5" stroke="#000" stroke-width="1" stroke-dasharray="2 2"/>
<line x1="398.5" y1="144.5" x2="398.5" y2="221.5" stroke="#000" stroke-width="1" stroke-dasharray="2 2"/>
<line x1="419.5" y1="144.5" x2="419.5" y2="221.5" stroke="#000" stroke-width="1" stroke-dasharray="2 2"/>
<line x1="441.5" y1="144.5" x2="441.5" y2="221.5" stroke="#000" stroke-width="1" stroke-dasharray="2 2"/>
<line x1="462.5" y1="144.5" x2="462.5" y2="221.5" stroke="#000" stroke-width="1" stroke-dasharray="2 2"/>
<line x1="483.5" y1="144.5" x2="483.5" y2="221.5" stroke="#000" stroke-width="1" stroke-dasharray="2 2"/>
<line x1="504.5" y1="144.5" x2="504.5" y2="221.5" stroke="#000" stroke-width="1" stroke-dasharray="2 2"/>
<line x1="525.5" y1="144.5" x2="525.5" y2="221.5" stroke="#000" stroke-width="1" stroke-dasharray="2 2"/>
<line x1="546.5" y1="144.5" x2="546.5" y2="221.5" stroke="#000" stroke-width="1" stroke-dasharray="2 2"/>
<line x1="567.5" y1="144.5" x2="567.5" y2="221.5" stroke="#000" stroke-width="1" stroke-dasharray="2 2"/>
<line x1="588.5" y1="144.5" x2="588.5" y2="221.5" stroke="#000" stroke-width="1" stroke-dasharray="2 2"/>
<line x1="609.5" y1="144.5" x2="609.5" y2="221.5" stroke="#000" stroke-width="1" stroke-dasharray="2 2"/>
<line x1="631.5" y1="144.5" x2="631.5" y2="221.5" stroke="#000" stroke-width="1" stroke-dasharray="2 2"/>
<line x1="652.5" y1="144.5" x2="652.5" y2="221.5" stroke="#000" stroke-width="1" stroke-dasharray="2 2"/>
<line x1="673.5" y1="144.5" x2="673.5" y2="221.5" stroke="#000" stroke-width="1" stroke-dasharray="2 2"/>
<line x1="694.5" y1="144.5" x2="694.5" y2="221.5" stroke="#000" stroke-width="1" stroke-dasharray="2 2"/>
<line x1="715.5" y1="144.5" x2="715.5" y2="221.5" stroke="#000" stroke-width="1" stroke-dasharray="2 2"/>
<line x1="736.5" y1="144.5" x2="736.5" y2="221.5" stroke="#000" stroke-width="1" stroke-dasharray="2 2"/>
<line x1="343.5" y1="146.5" x2="757.5" y2="146.5" stroke="#000" stroke-width="1" stroke-dasharray="2 2"/>
<line x1="343.5" y1="161.5" x2="757.5" y2="161.5" stroke="#000" stroke-width="1" stroke-dasharray="2 2"/>
<line x1="343.5" y1="176.5" x2="757.5" y2="176.5" stroke="#000" stroke-width="1" stroke-dasharray="2 2"/>
<line x1="343.5" y1="191.5" x2="757.5" y2="191.5" stroke="#000" stroke-width="1" stroke-dasharray="2 2"/>
<line x1="343.5" y1="206.5" x2="757.5" y2="206.5" stroke="#000" stroke-width="1" stroke-dasharray="2 2"/>
<polyline points="342.5,143.5 342.5,221.5 757.5,221.5 757.5,143.5" fill="none" stroke="#000" stroke-width="1"/>
<rect x="342.0" y="143.0" width="416.0" height="2" fill="#6a6a6a"/>
<line x1="356.5" y1="231.5" x2="356.5" y2="308.5" stroke="#000" stroke-width="1" stroke-dasharray="2 2"/>
<line x1="377.5" y1="231.5" x2="377.5" y2="308.5" stroke="#000" stroke-width="1" stroke-dasharray="2 2"/>
<line x1="398.5" y1="231.5" x2="398.5" y2="308.5" stroke="#000" stroke-width="1" stroke-dasharray="2 2"/>
<line x1="419.5" y1="231.5" x2="419.5" y2="308.5" stroke="#000" stroke-width="1" stroke-dasharray="2 2"/>
<line x1="441.5" y1="231.5" x2="441.5" y2="308.5" stroke="#000" stroke-width="1" stroke-dasharray="2 2"/>
<line x1="462.5" y1="231.5" x2="462.5" y2="308.5" stroke="#000" stroke-width="1" stroke-dasharray="2 2"/>
<line x1="483.5" y1="231.5" x2="483.5" y2="308.5" stroke="#000" stroke-width="1" stroke-dasharray="2 2"/>
<line x1="504.5" y1="231.5" x2="504.5" y2="308.5" stroke="#000" stroke-width="1" stroke-dasharray="2 2"/>
<line x1="525.5" y1="231.5" x2="525.5" y2="308.5" stroke="#000" stroke-width="1" stroke-dasharray="2 2"/>
<line x1="546.5" y1="231.5" x2="546.5" y2="308.5" stroke="#000" stroke-width="1" stroke-dasharray="2 2"/>
<line x1="567.5" y1="231.5" x2="567.5" y2="308.5" stroke="#000" stroke-width="1" stroke-dasharray="2 2"/>
<line x1="588.5" y1="231.5" x2="588.5" y2="308.5" stroke="#000" stroke-width="1" stroke-dasharray="2 2"/>
<line x1="609.5" y1="231.5" x2="609.5" y2="308.5" stroke="#000" stroke-width="1" stroke-dasharray="2 2"/>
<line x1="631.5" y1="231.5" x2="631.5" y2="308.5" stroke="#000" stroke-width="1" stroke-dasharray="2 2"/>
<line x1="652.5" y1="231.5" x2="652.5" y2="308.5" stroke="#000" stroke-width="1" stroke-dasharray="2 2"/>
<line x1="673.5" y1="231.5" x2="673.5" y2="308.5" stroke="#000" stroke-width="1" stroke-dasharray="2 2"/>
<line x1="694.5" y1="231.5" x2="694.5" y2="308.5" stroke="#000" stroke-width="1" stroke-dasharray="2 2"/>
<line x1="715.5" y1="231.5" x2="715.5" y2="308.5" stroke="#000" stroke-width="1" stroke-dasharray="2 2"/>
<line x1="736.5" y1="231.5" x2="736.5" y2="308.5" stroke="#000" stroke-width="1" stroke-dasharray="2 2"/>
<line x1="343.5" y1="234.5" x2="757.5" y2="234.5" stroke="#000" stroke-width="1" stroke-dasharray="2 2"/>
<line x1="343.5" y1="254.5" x2="757.5" y2="254.5" stroke="#000" stroke-width="1" stroke-dasharray="2 2"/>
<line x1="343.5" y1="275.5" x2="757.5" y2="275.5" stroke="#000" stroke-width="1" stroke-dasharray="2 2"/>
<line x1="343.5" y1="295.5" x2="757.5" y2="295.5" stroke="#000" stroke-width="1" stroke-dasharray="2 2"/>
<rect x="342.5" y="230.5" width="415.0" height="78.0" fill="none" stroke="#000" stroke-width="1"/>
<line x1="356.5" y1="318.5" x2="356.5" y2="395.5" stroke="#000" stroke-width="1" stroke-dasharray="2 2"/>
<line x1="377.5" y1="318.5" x2="377.5" y2="395.5" stroke="#000" stroke-width="1" stroke-dasharray="2 2"/>
<line x1="398.5" y1="318.5" x2="398.5" y2="395.5" stroke="#000" stroke-width="1" stroke-dasharray="2 2"/>
<line x1="419.5" y1="318.5" x2="419.5" y2="395.5" stroke="#000" stroke-width="1" stroke-dasharray="2 2"/>
<line x1="441.5" y1="318.5" x2="441.5" y2="395.5" stroke="#000" stroke-width="1" stroke-dasharray="2 2"/>
<line x1="462.5" y1="318.5" x2="462.5" y2="395.5" stroke="#000" stroke-width="1" stroke-dasharray="2 2"/>
<line x1="483.5" y1="318.5" x2="483.5" y2="395.5" stroke="#000" stroke-width="1" stroke-dasharray="2 2"/>
<line x1="504.5" y1="318.5" x2="504.5" y2="395.5" stroke="#000" stroke-width="1" stroke-dasharray="2 2"/>
<line x1="525.5" y1="318.5" x2="525.5" y2="395.5" stroke="#000" stroke-width="1" stroke-dasharray="2 2"/>
<line x1="546.5" y1="318.5" x2="546.5" y2="395.5" stroke="#000" stroke-width="1" stroke-dasharray="2 2"/>
<line x1="567.5" y1="318.5" x2="567.5" y2="395.5" stroke="#000" stroke-width="1" stroke-dasharray="2 2"/>
<line x1="588.5" y1="318.5" x2="588.5" y2="395.5" stroke="#000" stroke-width="1" stroke-dasharray="2 2"/>
<line x1="609.5" y1="318.5" x2="609.5" y2="395.5" stroke="#000" stroke-width="1" stroke-dasharray="2 2"/>
<line x1="631.5" y1="318.5" x2="631.5" y2="395.5" stroke="#000" stroke-width="1" stroke-dasharray="2 2"/>
<line x1="652.5" y1="318.5" x2="652.5" y2="395.5" stroke="#000" stroke-width="1" stroke-dasharray="2 2"/>
<line x1="673.5" y1="318.5" x2="673.5" y2="395.5" stroke="#000" stroke-width="1" stroke-dasharray="2 2"/>
<line x1="694.5" y1="318.5" x2="694.5" y2="395.5" stroke="#000" stroke-width="1" stroke-dasharray="2 2"/>
<line x1="715.5" y1="318.5" x2="715.5" y2="395.5" stroke="#000" stroke-width="1" stroke-dasharray="2 2"/>
<line x1="736.5" y1="318.5" x2="736.5" y2="395.5" stroke="#000" stroke-width="1" stroke-dasharray="2 2"/>
<line x1="343.5" y1="318.5" x2="757.5" y2="318.5" stroke="#000" stroke-width="1" stroke-dasharray="2 2"/>
<line x1="343.5" y1="337.5" x2="757.5" y2="337.5" stroke="#000" stroke-width="1" stroke-dasharray="2 2"/>
<line x1="343.5" y1="357.5" x2="757.5" y2="357.5" stroke="#000" stroke-width="1" stroke-dasharray="2 2"/>
<line x1="343.5" y1="376.5" x2="757.5" y2="376.5" stroke="#000" stroke-width="1" stroke-dasharray="2 2"/>
<rect x="342.5" y="317.5" width="415.0" height="78.0" fill="none" stroke="#000" stroke-width="1"/>
<line x1="356.5" y1="402.5" x2="356.5" y2="431.5" stroke="#000" stroke-width="1" stroke-dasharray="2 2"/>
<line x1="377.5" y1="402.5" x2="377.5" y2="431.5" stroke="#000" stroke-width="1" stroke-dasharray="2 2"/>
<line x1="398.5" y1="402.5" x2="398.5" y2="431.5" stroke="#000" stroke-width="1" stroke-dasharray="2 2"/>
<line x1="419.5" y1="402.5" x2="419.5" y2="431.5" stroke="#000" stroke-width="1" stroke-dasharray="2 2"/>
<line x1="441.5" y1="402.5" x2="441.5" y2="431.5" stroke="#000" stroke-width="1" stroke-dasharray="2 2"/>
<line x1="462.5" y1="402.5" x2="462.5" y2="431.5" stroke="#000" stroke-width="1" stroke-dasharray="2 2"/>
<line x1="483.5" y1="402.5" x2="483.5" y2="431.5" stroke="#000" stroke-width="1" stroke-dasharray="2 2"/>
<line x1="504.5" y1="402.5" x2="504.5" y2="431.5" stroke="#000" stroke-width="1" stroke-dasharray="2 2"/>
<line x1="525.5" y1="402.5" x2="525.5" y2="431.5" stroke="#000" stroke-width="1" stroke-dasharray="2 2"/>
<line x1="546.5" y1="402.5" x2="546.5" y2="431.5" stroke="#000" stroke-width="1" stroke-dasharray="2 2"/>
<line x1="567.5" y1="402.5" x2="567.5" y2="431.5" stroke="#000" stroke-width="1" stroke-dasharray="2 2"/>
<line x1="588.5" y1="402.5" x2="588.5" y2="431.5" stroke="#000" stroke-width="1" stroke-dasharray="2 2"/>
<line x1="609.5" y1="402.5" x2="609.5" y2="431.5" stroke="#000" stroke-width="1" stroke-dasharray="2 2"/>
<line x1="631.5" y1="402.5" x2="631.5" y2="431.5" stroke="#000" stroke-width="1" stroke-dasharray="2 2"/>
<line x1="652.5" y1="402.5" x2="652.5" y2="431.5" stroke="#000" stroke-width="1" stroke-dasharray="2 2"/>
<line x1="673.5" y1="402.5" x2="673.5" y2="431.5" stroke="#000" stroke-width="1" stroke-dasharray="2 2"/>
<line x1="694.5" y1="402.5" x2="694.5" y2="431.5" stroke="#000" stroke-width="1" stroke-dasharray="2 2"/>
<line x1="715.5" y1="402.5" x2="715.5" y2="431.5" stroke="#000" stroke-width="1" stroke-dasharray="2 2"/>
<line x1="736.5" y1="402.5" x2="736.5" y2="431.5" stroke="#000" stroke-width="1" stroke-dasharray="2 2"/>
<polyline points="342.5,431.5 342.5,401.5 757.5,401.5 757.5,431.5" fill="none" stroke="#000" stroke-width="1"/>
<rect x="342.0" y="430.8" width="416.0" height="1.4" fill="#6a6a6a"/>
<line x1="356.5" y1="439.5" x2="356.5" y2="516.5" stroke="#000" stroke-width="1" stroke-dasharray="2 2"/>
<line x1="377.5" y1="439.5" x2="377.5" y2="516.5" stroke="#000" stroke-width="1" stroke-dasharray="2 2"/>
<line x1="398.5" y1="439.5" x2="398.5" y2="516.5" stroke="#000" stroke-width="1" stroke-dasharray="2 2"/>
<line x1="419.5" y1="439.5" x2="419.5" y2="516.5" stroke="#000" stroke-width="1" stroke-dasharray="2 2"/>
<line x1="441.5" y1="439.5" x2="441.5" y2="516.5" stroke="#000" stroke-width="1" stroke-dasharray="2 2"/>
<line x1="462.5" y1="439.5" x2="462.5" y2="516.5" stroke="#000" stroke-width="1" stroke-dasharray="2 2"/>
<line x1="483.5" y1="439.5" x2="483.5" y2="516.5" stroke="#000" stroke-width="1" stroke-dasharray="2 2"/>
<line x1="504.5" y1="439.5" x2="504.5" y2="516.5" stroke="#000" stroke-width="1" stroke-dasharray="2 2"/>
<line x1="525.5" y1="439.5" x2="525.5" y2="516.5" stroke="#000" stroke-width="1" stroke-dasharray="2 2"/>
<line x1="546.5" y1="439.5" x2="546.5" y2="516.5" stroke="#000" stroke-width="1" stroke-dasharray="2 2"/>
<line x1="567.5" y1="439.5" x2="567.5" y2="516.5" stroke="#000" stroke-width="1" stroke-dasharray="2 2"/>
<line x1="588.5" y1="439.5" x2="588.5" y2="516.5" stroke="#000" stroke-width="1" stroke-dasharray="2 2"/>
<line x1="609.5" y1="439.5" x2="609.5" y2="516.5" stroke="#000" stroke-width="1" stroke-dasharray="2 2"/>
<line x1="631.5" y1="439.5" x2="631.5" y2="516.5" stroke="#000" stroke-width="1" stroke-dasharray="2 2"/>
<line x1="652.5" y1="439.5" x2="652.5" y2="516.5" stroke="#000" stroke-width="1" stroke-dasharray="2 2"/>
<line x1="673.5" y1="439.5" x2="673.5" y2="516.5" stroke="#000" stroke-width="1" stroke-dasharray="2 2"/>
<line x1="694.5" y1="439.5" x2="694.5" y2="516.5" stroke="#000" stroke-width="1" stroke-dasharray="2 2"/>
<line x1="715.5" y1="439.5" x2="715.5" y2="516.5" stroke="#000" stroke-width="1" stroke-dasharray="2 2"/>
<line x1="736.5" y1="439.5" x2="736.5" y2="516.5" stroke="#000" stroke-width="1" stroke-dasharray="2 2"/>
<line x1="343.5" y1="457.5" x2="757.5" y2="457.5" stroke="#000" stroke-width="1" stroke-dasharray="2 2"/>
<line x1="343.5" y1="477.5" x2="757.5" y2="477.5" stroke="#000" stroke-width="1" stroke-dasharray="2 2"/>
<line x1="343.5" y1="496.5" x2="757.5" y2="496.5" stroke="#000" stroke-width="1" stroke-dasharray="2 2"/>
<line x1="342.5" y1="438.0" x2="342.5" y2="517.0" stroke="#000" stroke-width="1"/>
<line x1="757.5" y1="438.0" x2="757.5" y2="517.0" stroke="#000" stroke-width="1"/>
<line x1="342.5" y1="438.5" x2="757.5" y2="438.5" stroke="#000" stroke-width="1" stroke-dasharray="2 2"/>
<line x1="342.5" y1="516.5" x2="757.5" y2="516.5" stroke="#000" stroke-width="1" stroke-dasharray="2 2"/>
<line x1="342.0" y1="437.5" x2="758.0" y2="437.5" stroke="#000" stroke-opacity="0.3" stroke-width="1"/>
<line x1="356.5" y1="526.5" x2="356.5" y2="603.5" stroke="#000" stroke-width="1" stroke-dasharray="2 2"/>
<line x1="377.5" y1="526.5" x2="377.5" y2="603.5" stroke="#000" stroke-width="1" stroke-dasharray="2 2"/>
<line x1="398.5" y1="526.5" x2="398.5" y2="603.5" stroke="#000" stroke-width="1" stroke-dasharray="2 2"/>
<line x1="419.5" y1="526.5" x2="419.5" y2="603.5" stroke="#000" stroke-width="1" stroke-dasharray="2 2"/>
<line x1="441.5" y1="526.5" x2="441.5" y2="603.5" stroke="#000" stroke-width="1" stroke-dasharray="2 2"/>
<line x1="462.5" y1="526.5" x2="462.5" y2="603.5" stroke="#000" stroke-width="1" stroke-dasharray="2 2"/>
<line x1="483.5" y1="526.5" x2="483.5" y2="603.5" stroke="#000" stroke-width="1" stroke-dasharray="2 2"/>
<line x1="504.5" y1="526.5" x2="504.5" y2="603.5" stroke="#000" stroke-width="1" stroke-dasharray="2 2"/>
<line x1="525.5" y1="526.5" x2="525.5" y2="603.5" stroke="#000" stroke-width="1" stroke-dasharray="2 2"/>
<line x1="546.5" y1="526.5" x2="546.5" y2="603.5" stroke="#000" stroke-width="1" stroke-dasharray="2 2"/>
<line x1="567.5" y1="526.5" x2="567.5" y2="603.5" stroke="#000" stroke-width="1" stroke-dasharray="2 2"/>
<line x1="588.5" y1="526.5" x2="588.5" y2="603.5" stroke="#000" stroke-width="1" stroke-dasharray="2 2"/>
<line x1="609.5" y1="526.5" x2="609.5" y2="603.5" stroke="#000" stroke-width="1" stroke-dasharray="2 2"/>
<line x1="631.5" y1="526.5" x2="631.5" y2="603.5" stroke="#000" stroke-width="1" stroke-dasharray="2 2"/>
<line x1="652.5" y1="526.5" x2="652.5" y2="603.5" stroke="#000" stroke-width="1" stroke-dasharray="2 2"/>
<line x1="673.5" y1="526.5" x2="673.5" y2="603.5" stroke="#000" stroke-width="1" stroke-dasharray="2 2"/>
<line x1="694.5" y1="526.5" x2="694.5" y2="603.5" stroke="#000" stroke-width="1" stroke-dasharray="2 2"/>
<line x1="715.5" y1="526.5" x2="715.5" y2="603.5" stroke="#000" stroke-width="1" stroke-dasharray="2 2"/>
<line x1="736.5" y1="526.5" x2="736.5" y2="603.5" stroke="#000" stroke-width="1" stroke-dasharray="2 2"/>
<line x1="343.5" y1="545.5" x2="757.5" y2="545.5" stroke="#000" stroke-width="1" stroke-dasharray="2 2"/>
<line x1="343.5" y1="564.5" x2="757.5" y2="564.5" stroke="#000" stroke-width="1" stroke-dasharray="2 2"/>
<line x1="343.5" y1="584.5" x2="757.5" y2="584.5" stroke="#000" stroke-width="1" stroke-dasharray="2 2"/>
<rect x="342.5" y="525.5" width="415.0" height="78.0" fill="none" stroke="#000" stroke-width="1"/>
<text x="280.0" y="12.8" font-size="13" fill="#000094" text-anchor="start" textLength="152.0" lengthAdjust="spacing" >wschód słońca: 07:07 CEST</text>
<text x="280.0" y="25.6" font-size="13" fill="#000094" text-anchor="start" textLength="152.0" lengthAdjust="spacing" >zachód słońca: 17:30 CEST</text>
<text x="551.0" y="12.8" font-size="13" fill="#000094" text-anchor="middle" textLength="127.0" lengthAdjust="spacing" >21°31'43"E, 53°44'52"N</text>
<text x="550.5" y="25.4" font-size="13" fill="#000094" text-anchor="middle" textLength="81.0" lengthAdjust="spacing" >(x=258, y=362)</text>
<text x="738.5" y="12.8" font-size="13" fill="#000094" text-anchor="middle" textLength="158.0" lengthAdjust="spacing" >wysokość (min, środek, max)</text>
<text x="738.5" y="25.4" font-size="13" fill="#000094" text-anchor="middle" textLength="97.0" lengthAdjust="spacing" >128 - 146 - 176 m</text>
<text x="462.0" y="41.7" font-size="13" fill="#000" text-anchor="middle" textLength="60.0" lengthAdjust="spacing" >sob, 18.10</text>
<text x="630.5" y="41.7" font-size="13" fill="#000" text-anchor="middle" textLength="55.5" lengthAdjust="spacing" >nie, 19.10</text>
<text x="302.8" y="54.6" font-size="13" fill="#000" text-anchor="start" textLength="33.2" lengthAdjust="spacing" >CEST</text>
<text x="764.6" y="54.6" font-size="13" fill="#000" text-anchor="start" textLength="33.2" lengthAdjust="spacing" >CEST</text>
<text x="356.8" y="54.6" font-size="13" fill="#000" text-anchor="middle" >23</text>
<text x="399.0" y="54.6" font-size="13" fill="#000" text-anchor="middle" >05</text>
<text x="441.2" y="54.6" font-size="13" fill="#000" text-anchor="middle" >11</text>
<text x="483.5" y="54.6" font-size="13" fill="#000" text-anchor="middle" >17</text>
<text x="525.7" y="54.6" font-size="13" fill="#000" text-anchor="middle" >23</text>
<text x="567.9" y="54.6" font-size="13" fill="#000" text-anchor="middle" >05</text>
<text x="610.1" y="54.6" font-size="13" fill="#000" text-anchor="middle" >11</text>
<text x="652.3" y="54.6" font-size="13" fill="#000" text-anchor="middle" >17</text>
<text x="694.6" y="54.6" font-size="13" fill="#000" text-anchor="middle" >23</text>
<text x="736.8" y="54.6" font-size="13" fill="#000" text-anchor="middle" >05</text>
<text x="356.8" y="616.6" font-size="13" fill="#000" text-anchor="middle" >21</text>
<text x="399.0" y="616.6" font-size="13" fill="#000" text-anchor="middle" >03</text>
<text x="441.2" y="616.6" font-size="13" fill="#000" text-anchor="middle" >09</text>
<text x="483.5" y="616.6" font-size="13" fill="#000" text-anchor="middle" >15</text>
<text x="525.7" y="616.6" font-size="13" fill="#000" text-anchor="middle" >21</text>
<text x="567.9" y="616.6" font-size="13" fill="#000" text-anchor="middle" >03</text>
<text x="610.1" y="616.6" font-size="13" fill="#000" text-anchor="middle" >09</text>
<text x="652.3" y="616.6" font-size="13" fill="#000" text-anchor="middle" >15</text>
<text x="694.6" y="616.6" font-size="13" fill="#000" text-anchor="middle" >21</text>
<text x="736.8" y="616.6" font-size="13" fill="#000" text-anchor="middle" >03</text>
<text x="306.3" y="616.6" font-size="13" fill="#000" text-anchor="start" textLength="23.8" lengthAdjust="spacing" >UTC</text>
<text x="769.5" y="616.6" font-size="13" fill="#000" text-anchor="start" textLength="23.8" lengthAdjust="spacing" >UTC</text>
<text x="462.0" y="629.6" font-size="13" fill="#000" text-anchor="middle" textLength="30.0" lengthAdjust="spacing" >18.10</text>
<text x="630.5" y="629.6" font-size="13" fill="#000" text-anchor="middle" textLength="30.0" lengthAdjust="spacing" >19.10</text>
<text x="300.0" y="652.5" font-size="13" fill="#000094" text-anchor="start" textLength="108.5" lengthAdjust="spacing" >meteo@icm.edu.pl</text>
<text x="553.5" y="652.5" font-size="13" fill="#000094" text-anchor="start" textLength="251.5" lengthAdjust="spacing" >© 2007-2025 ICM, Uniwersytet Warszawski</text>
<text x="337.6" y="71.7" font-size="11.6" fill="#000" text-anchor="end" >10</text>
<text x="337.6" y="96.7" font-size="11.6" fill="#000" text-anchor="end" >5</text>
<text x="337.6" y="122.7" font-size="11.6" fill="#000" text-anchor="end" >0</text>
<text x="761.3" y="71.7" font-size="11.6" fill="#000" text-anchor="start" >10</text>
<text x="764.5" y="96.7" font-size="11.6" fill="#000" text-anchor="start" >5</text>
<text x="764.5" y="122.7" font-size="11.6" fill="#000" text-anchor="start" >0</text>
<text x="337.6" y="150.7" font-size="11.6" fill="#000" text-anchor="end" >10</text>
<text x="337.6" y="165.7" font-size="11.6" fill="#000" text-anchor="end" >8</text>
<text x="337.6" y="180.7" font-size="11.6" fill="#000" text-anchor="end" >6</text>
<text x="337.6" y="195.7" font-size="11.6" fill="#000" text-anchor="end" >4</text>
<text x="337.6" y="210.7" font-size="11.6" fill="#000" text-anchor="end" >2</text>
<text x="337.6" y="225.7" font-size="11.6" fill="#000" text-anchor="end" >0</text>
<text x="761.3" y="150.7" font-size="11.6" fill="#E84A1A" text-anchor="start" >100</text>
<text x="761.3" y="165.7" font-size="11.6" fill="#E84A1A" text-anchor="start" >90</text>
<text x="761.3" y="180.7" font-size="11.6" fill="#E84A1A" text-anchor="start" >80</text>
<text x="761.3" y="195.7" font-size="11.6" fill="#E84A1A" text-anchor="start" >70</text>
<text x="761.3" y="210.7" font-size="11.6" fill="#E84A1A" text-anchor="start" >60</text>
<text x="761.3" y="225.7" font-size="11.6" fill="#E84A1A" text-anchor="start" >50</text>
<text x="337.6" y="238.7" font-size="11.6" fill="#000" text-anchor="end" >1025</text>
<text x="337.6" y="258.7" font-size="11.6" fill="#000" text-anchor="end" >1020</text>
<text x="337.6" y="279.7" font-size="11.6" fill="#000" text-anchor="end" >1015</text>
<text x="337.6" y="299.7" font-size="11.6" fill="#000" text-anchor="end" >1010</text>
<text x="761.3" y="238.7" font-size="11.6" fill="#000" text-anchor="start" >769</text>
<text x="761.3" y="258.7" font-size="11.6" fill="#000" text-anchor="start" >765</text>
<text x="761.3" y="279.7" font-size="11.6" fill="#000" text-anchor="start" >761</text>
<text x="761.3" y="299.7" font-size="11.6" fill="#000" text-anchor="start" >758</text>
<text x="337.6" y="322.7" font-size="11.6" fill="#000" text-anchor="end" >20</text>
<text x="337.6" y="341.7" font-size="11.6" fill="#000" text-anchor="end" >15</text>
<text x="337.6" y="361.7" font-size="11.6" fill="#000" text-anchor="end" >10</text>
<text x="337.6" y="380.7" font-size="11.6" fill="#000" text-anchor="end" >5</text>
<text x="337.6" y="399.7" font-size="11.6" fill="#000" text-anchor="end" >0</text>
<text x="761.3" y="322.7" font-size="11.6" fill="#000" text-anchor="start" >72</text>
<text x="761.3" y="341.7" font-size="11.6" fill="#000" text-anchor="start" >54</text>
<text x="761.3" y="361.7" font-size="11.6" fill="#000" text-anchor="start" >36</text>
<text x="761.3" y="380.7" font-size="11.6" fill="#000" text-anchor="start" >18</text>
<text x="764.5" y="399.7" font-size="11.6" fill="#000" text-anchor="start" >0</text>
<text x="337.6" y="442.7" font-size="11.6" fill="#000" text-anchor="end" >15.0</text>
<text x="337.6" y="461.7" font-size="11.6" fill="#000" text-anchor="end" >7.0</text>
<text x="337.6" y="481.7" font-size="11.6" fill="#000" text-anchor="end" >2.0</text>
<text x="337.6" y="500.7" font-size="11.6" fill="#000" text-anchor="end" >0.5</text>
<text x="337.6" y="520.7" font-size="11.6" fill="#000" text-anchor="end" >0.0</text>
<text x="761.3" y="442.7" font-size="11.6" fill="#FF8000" text-anchor="start" >100</text>
<text x="761.3" y="461.7" font-size="11.6" fill="#FF8000" text-anchor="start" >20</text>
<text x="761.3" y="481.7" font-size="11.6" fill="#FF8000" text-anchor="start" >5</text>
<text x="761.3" y="500.7" font-size="11.6" fill="#FF8000" text-anchor="start" >1</text>
<text x="761.3" y="520.7" font-size="11.6" fill="#FF8000" text-anchor="start" >0</text>
<text x="337.6" y="529.7" font-size="11.6" fill="#000" text-anchor="end" >8</text>
<text x="337.6" y="549.7" font-size="11.6" fill="#000" text-anchor="end" >6</text>
<text x="337.6" y="568.7" font-size="11.6" fill="#000" text-anchor="end" >4</text>
<text x="337.6" y="588.7" font-size="11.6" fill="#000" text-anchor="end" >2</text>
<text x="337.6" y="607.7" font-size="11.6" fill="#000" text-anchor="end" >0</text>
<text x="761.3" y="529.7" font-size="11.6" fill="#FF8000" text-anchor="start" >1</text>
<text x="761.3" y="549.7" font-size="11.6" fill="#FF8000" text-anchor="start" >0.75</text>
<text x="761.3" y="568.7" font-size="11.6" fill="#FF8000" text-anchor="start" >0.5</text>
<text x="761.3" y="588.7" font-size="11.6" fill="#FF8000" text-anchor="start" >0.25</text>
<text x="761.3" y="607.7" font-size="11.6" fill="#FF8000" text-anchor="start" >0</text>
<text transform="translate(292.5,96.9) rotate(-90)" font-size="12.5" fill="#000094" text-anchor="middle" textLength="65.0" lengthAdjust="spacing">temperatura</text>
<text transform="translate(305.0,96.4) rotate(-90)" font-size="12.5" fill="#000094" text-anchor="middle">(°C)</text>
<text transform="translate(292.5,185.2) rotate(-90)" font-size="12.5" fill="#000094" text-anchor="middle">opad</text>
<text transform="translate(305.0,182.6) rotate(-90)" font-size="12.5" fill="#000094" text-anchor="middle" textLength="83.5" lengthAdjust="spacing">(mm/h, kg/m²/h)</text>
<text transform="translate(292.5,272.5) rotate(-90)" font-size="12.5" fill="#000094" text-anchor="middle" textLength="49.0" lengthAdjust="spacing">ciśnienie</text>
<text transform="translate(305.0,273.5) rotate(-90)" font-size="12.5" fill="#000094" text-anchor="middle">(hPa)</text>
<text transform="translate(292.5,360.4) rotate(-90)" font-size="12.5" fill="#000094" text-anchor="middle">wiatr</text>
<text transform="translate(305.0,361.5) rotate(-90)" font-size="12.5" fill="#000094" text-anchor="middle">(m/s)</text>
<text transform="translate(292.5,475.0) rotate(-90)" font-size="12.5" fill="#000094" text-anchor="middle" textLength="101.0" lengthAdjust="spacing">pion. rozciągł. chm.</text>
<text transform="translate(305.0,473.7) rotate(-90)" font-size="12.5" fill="#000094" text-anchor="middle">(km)</text>
<text transform="translate(292.5,571.8) rotate(-90)" font-size="12.5" fill="#000094" text-anchor="middle" textLength="75.0" lengthAdjust="spacing">zachmurzenie</text>
<text transform="translate(305.0,562.7) rotate(-90)" font-size="12.5" fill="#000094" text-anchor="middle">(oktanty)</text>
<text transform="translate(803.0,96.5) rotate(-90)" font-size="12.5" fill="#000094" text-anchor="middle">(°C)</text>
<text transform="translate(815.5,96.5) rotate(-90)" font-size="12.5" fill="#000094" text-anchor="middle" textLength="65.5" lengthAdjust="spacing">temperatura</text>
<text transform="translate(803.0,178.0) rotate(-90)" font-size="12.5" fill="#000094" text-anchor="middle">(%)</text>
<text transform="translate(815.5,185.4) rotate(-90)" font-size="12.5" fill="#000094" text-anchor="middle" textLength="87.0" lengthAdjust="spacing">wilgotność wzgl.</text>
<text transform="translate(803.0,273.5) rotate(-90)" font-size="12.5" fill="#000094" text-anchor="middle" textLength="47.8" lengthAdjust="spacing">(mm Hg)</text>
<text transform="translate(815.5,272.8) rotate(-90)" font-size="12.5" fill="#000094" text-anchor="middle" textLength="49.0" lengthAdjust="spacing">ciśnienie</text>
<text transform="translate(803.0,362.0) rotate(-90)" font-size="12.5" fill="#000094" text-anchor="middle">(km/h)</text>
<text transform="translate(815.5,362.0) rotate(-90)" font-size="12.5" fill="#000094" text-anchor="middle">wiatr</text>
<text transform="translate(803.0,474.0) rotate(-90)" font-size="12.5" fill="#000094" text-anchor="middle">(km)</text>
<text transform="translate(815.5,475.5) rotate(-90)" font-size="12.5" fill="#000094" text-anchor="middle" textLength="62.0" lengthAdjust="spacing">widzialność</text>
<text transform="translate(803.0,562.6) rotate(-90)" font-size="12.5" fill="#000094" text-anchor="middle">(frakcja)</text>
<text transform="translate(815.5,562.6) rotate(-90)" font-size="12.5" fill="#000094" text-anchor="middle">mgła</text>
<text x="298.7" y="412.5" font-size="12.5" fill="#000094" text-anchor="middle" >N</text>
<text x="289.0" y="420.0" font-size="12.5" fill="#000094" text-anchor="middle" >W</text>
<text x="305.0" y="420.5" font-size="12.5" fill="#000094" text-anchor="middle" >E</text>
<text x="297.6" y="428.5" font-size="12.5" fill="#000094" text-anchor="middle" >S</text>
<text x="807.7" y="412.5" font-size="12.5" fill="#000094" text-anchor="middle" >N</text>
<text x="798.0" y="420.0" font-size="12.5" fill="#000094" text-anchor="middle" >W</text>
<text x="814.0" y="420.5" font-size="12.5" fill="#000094" text-anchor="middle" >E</text>
<text x="806.6" y="428.5" font-size="12.5" fill="#000094" text-anchor="middle" >S</text>
</svg></body></html>
